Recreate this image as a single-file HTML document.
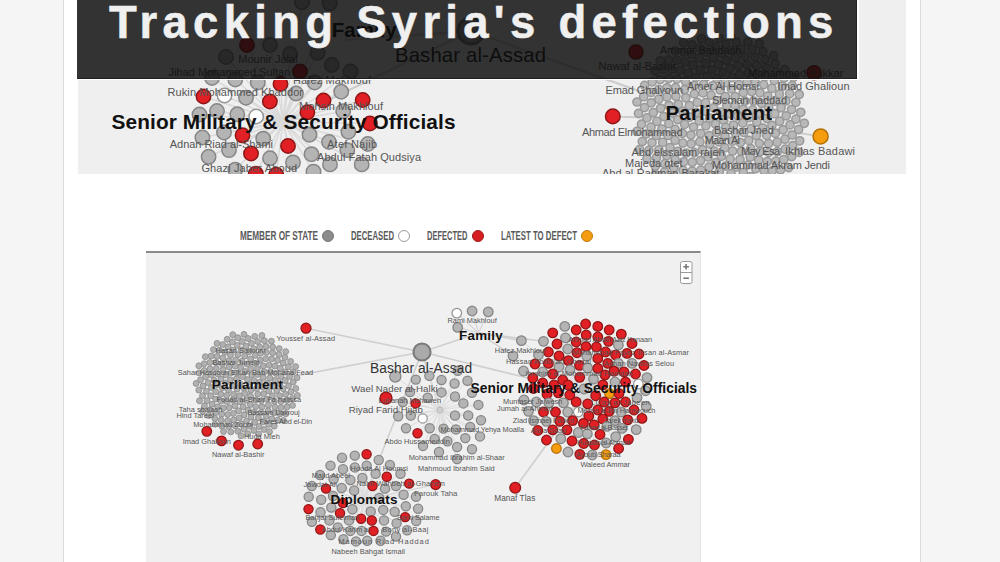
<!DOCTYPE html>
<html><head><meta charset="utf-8"><style>
html,body{margin:0;padding:0;}
body{width:1000px;height:562px;overflow:hidden;background:#f5f5f5;position:relative;font-family:"Liberation Sans",sans-serif;}
.col{position:absolute;left:63px;top:0;width:856px;height:562px;background:#fff;border-left:1px solid #dadada;border-right:1px solid #dadada;}
.topimg{position:absolute;left:77px;top:0;width:829px;height:174px;background:#fff;overflow:hidden;}
.gbg{position:absolute;left:1px;top:0;width:828px;height:174px;background:#efefef;}
.gap{position:absolute;left:0;top:78.5px;width:781.5px;height:1.8px;background:#fff;}
.gapr{position:absolute;left:779.5px;top:0;width:2px;height:80px;background:#fff;}
.banner{position:absolute;left:0;top:0;width:780px;height:79px;background:rgba(11,11,11,0.826);border-bottom:1px solid rgba(20,20,20,.6);border-right:1px solid rgba(20,20,20,.5);box-sizing:border-box;}
.title{position:absolute;left:32px;top:-3.3px;-webkit-text-stroke:0.5px #eeeeee;font-size:45.5px;font-weight:bold;color:#f0f0f0;letter-spacing:5.27px;white-space:nowrap;}
.leg{position:absolute;top:227.5px;font-size:13.5px;font-weight:bold;color:#5a5a5a;white-space:nowrap;transform-origin:0 0;}
.dot{position:absolute;top:230px;width:10px;height:10px;border-radius:50%;}
 .box{position:absolute;left:146px;top:251px;width:555px;border-right:1px solid #e6e6e6;height:311px;background:#f0f0f0;border-top:2px solid #8a8a8a;box-sizing:border-box;overflow:hidden;}
.zoom{position:absolute;left:534px;top:9px;width:11px;height:22px;background:#fff;border:1px solid #aaa;border-radius:2px;box-shadow:0 1px 1px rgba(0,0,0,.3);}
svg text{font-family:"Liberation Sans",sans-serif;}
</style></head><body>
<div class="col"></div>
<div class="topimg">
<div class="gbg"></div>
<svg width="829" height="174" viewBox="77 0 829 174" style="position:absolute;left:0;top:0"><line x1="471.0" y1="31.0" x2="720.0" y2="120.0" stroke="#cdcdcd" stroke-width="2.2"/>
<line x1="471.0" y1="31.0" x2="283.0" y2="122.0" stroke="#cdcdcd" stroke-width="2.2"/>
<line x1="471.0" y1="31.0" x2="345.0" y2="40.0" stroke="#cdcdcd" stroke-width="2.2"/>
<line x1="612.8" y1="116.4" x2="720.0" y2="120.0" stroke="#cdcdcd" stroke-width="2"/>
<line x1="820.6" y1="136.4" x2="720.0" y2="120.0" stroke="#cdcdcd" stroke-width="2"/>
<line x1="283.0" y1="122.0" x2="212.0" y2="78.0" stroke="#dadada" stroke-width="1.5"/>
<line x1="283.0" y1="122.0" x2="235.3" y2="79.5" stroke="#dadada" stroke-width="1.5"/>
<line x1="283.0" y1="122.0" x2="257.8" y2="82.5" stroke="#dadada" stroke-width="1.5"/>
<line x1="283.0" y1="122.0" x2="280.5" y2="84.0" stroke="#dadada" stroke-width="1.5"/>
<line x1="283.0" y1="122.0" x2="203.5" y2="96.5" stroke="#dadada" stroke-width="1.5"/>
<line x1="283.0" y1="122.0" x2="224.5" y2="95.5" stroke="#dadada" stroke-width="1.5"/>
<line x1="283.0" y1="122.0" x2="246.0" y2="97.7" stroke="#dadada" stroke-width="1.5"/>
<line x1="283.0" y1="122.0" x2="269.9" y2="101.5" stroke="#dadada" stroke-width="1.5"/>
<line x1="283.0" y1="122.0" x2="296.0" y2="93.5" stroke="#dadada" stroke-width="1.5"/>
<line x1="283.0" y1="122.0" x2="314.6" y2="82.5" stroke="#dadada" stroke-width="1.5"/>
<line x1="283.0" y1="122.0" x2="341.2" y2="91.7" stroke="#dadada" stroke-width="1.5"/>
<line x1="283.0" y1="122.0" x2="323.5" y2="100.5" stroke="#dadada" stroke-width="1.5"/>
<line x1="283.0" y1="122.0" x2="362.7" y2="100.0" stroke="#dadada" stroke-width="1.5"/>
<line x1="283.0" y1="122.0" x2="199.5" y2="114.5" stroke="#dadada" stroke-width="1.5"/>
<line x1="283.0" y1="122.0" x2="217.0" y2="111.0" stroke="#dadada" stroke-width="1.5"/>
<line x1="283.0" y1="122.0" x2="237.3" y2="114.3" stroke="#dadada" stroke-width="1.5"/>
<line x1="283.0" y1="122.0" x2="256.2" y2="116.5" stroke="#dadada" stroke-width="1.5"/>
<line x1="283.0" y1="122.0" x2="307.4" y2="112.3" stroke="#dadada" stroke-width="1.5"/>
<line x1="283.0" y1="122.0" x2="343.2" y2="111.2" stroke="#dadada" stroke-width="1.5"/>
<line x1="283.0" y1="122.0" x2="369.9" y2="123.5" stroke="#dadada" stroke-width="1.5"/>
<line x1="283.0" y1="122.0" x2="224.0" y2="132.5" stroke="#dadada" stroke-width="1.5"/>
<line x1="283.0" y1="122.0" x2="202.4" y2="137.5" stroke="#dadada" stroke-width="1.5"/>
<line x1="283.0" y1="122.0" x2="242.5" y2="135.3" stroke="#dadada" stroke-width="1.5"/>
<line x1="283.0" y1="122.0" x2="263.2" y2="138.6" stroke="#dadada" stroke-width="1.5"/>
<line x1="283.0" y1="122.0" x2="309.5" y2="134.7" stroke="#dadada" stroke-width="1.5"/>
<line x1="283.0" y1="122.0" x2="348.4" y2="131.7" stroke="#dadada" stroke-width="1.5"/>
<line x1="283.0" y1="122.0" x2="288.0" y2="146.0" stroke="#dadada" stroke-width="1.5"/>
<line x1="283.0" y1="122.0" x2="329.0" y2="142.0" stroke="#dadada" stroke-width="1.5"/>
<line x1="283.0" y1="122.0" x2="367.8" y2="144.0" stroke="#dadada" stroke-width="1.5"/>
<line x1="283.0" y1="122.0" x2="208.6" y2="156.8" stroke="#dadada" stroke-width="1.5"/>
<line x1="283.0" y1="122.0" x2="229.0" y2="150.1" stroke="#dadada" stroke-width="1.5"/>
<line x1="283.0" y1="122.0" x2="251.0" y2="153.5" stroke="#dadada" stroke-width="1.5"/>
<line x1="283.0" y1="122.0" x2="270.0" y2="158.3" stroke="#dadada" stroke-width="1.5"/>
<line x1="283.0" y1="122.0" x2="293.0" y2="162.4" stroke="#dadada" stroke-width="1.5"/>
<line x1="283.0" y1="122.0" x2="311.5" y2="154.2" stroke="#dadada" stroke-width="1.5"/>
<line x1="283.0" y1="122.0" x2="347.3" y2="150.1" stroke="#dadada" stroke-width="1.5"/>
<line x1="283.0" y1="122.0" x2="330.0" y2="164.4" stroke="#dadada" stroke-width="1.5"/>
<line x1="283.0" y1="122.0" x2="361.7" y2="164.4" stroke="#dadada" stroke-width="1.5"/>
<line x1="283.0" y1="122.0" x2="313.5" y2="171.6" stroke="#dadada" stroke-width="1.5"/>
<line x1="283.0" y1="122.0" x2="235.3" y2="169.6" stroke="#dadada" stroke-width="1.5"/>
<line x1="283.0" y1="122.0" x2="255.8" y2="173.7" stroke="#dadada" stroke-width="1.5"/>
<line x1="283.0" y1="122.0" x2="276.2" y2="174.7" stroke="#dadada" stroke-width="1.5"/>
<line x1="283.0" y1="122.0" x2="247.0" y2="45.0" stroke="#dadada" stroke-width="1.5"/>
<line x1="283.0" y1="122.0" x2="270.0" y2="45.0" stroke="#dadada" stroke-width="1.5"/>
<line x1="283.0" y1="122.0" x2="226.0" y2="57.0" stroke="#dadada" stroke-width="1.5"/>
<line x1="283.0" y1="122.0" x2="290.0" y2="54.0" stroke="#dadada" stroke-width="1.5"/>
<line x1="283.0" y1="122.0" x2="317.5" y2="52.8" stroke="#dadada" stroke-width="1.5"/>
<line x1="283.0" y1="122.0" x2="302.0" y2="2.2" stroke="#dadada" stroke-width="1.5"/>
<line x1="283.0" y1="122.0" x2="329.6" y2="3.3" stroke="#dadada" stroke-width="1.5"/>
<line x1="283.0" y1="122.0" x2="300.0" y2="71.5" stroke="#dadada" stroke-width="1.5"/>
<line x1="283.0" y1="122.0" x2="331.8" y2="65.0" stroke="#dadada" stroke-width="1.5"/>
<line x1="283.0" y1="122.0" x2="350.5" y2="71.5" stroke="#dadada" stroke-width="1.5"/>
<circle cx="723.5" cy="120.0" r="4.1" fill="#b8b8b8" stroke="#999999" stroke-width="1.5"/>
<circle cx="715.5" cy="124.1" r="4.1" fill="#b8b8b8" stroke="#999999" stroke-width="1.5"/>
<circle cx="720.7" cy="112.2" r="4.1" fill="#b8b8b8" stroke="#999999" stroke-width="1.5"/>
<circle cx="725.7" cy="127.4" r="4.1" fill="#b8b8b8" stroke="#999999" stroke-width="1.5"/>
<circle cx="709.6" cy="118.2" r="4.1" fill="#b8b8b8" stroke="#999999" stroke-width="1.5"/>
<circle cx="729.8" cy="113.8" r="4.1" fill="#b8b8b8" stroke="#999999" stroke-width="1.5"/>
<circle cx="716.7" cy="132.2" r="4.1" fill="#b8b8b8" stroke="#999999" stroke-width="1.5"/>
<circle cx="713.7" cy="107.9" r="4.1" fill="#b8b8b8" stroke="#999999" stroke-width="1.5"/>
<circle cx="733.6" cy="125.0" r="4.1" fill="#b8b8b8" stroke="#999999" stroke-width="1.5"/>
<circle cx="705.9" cy="125.8" r="4.1" fill="#b8b8b8" stroke="#999999" stroke-width="1.5"/>
<circle cx="726.8" cy="105.4" r="4.1" fill="#b8b8b8" stroke="#999999" stroke-width="1.5"/>
<circle cx="725.0" cy="136.1" r="4.1" fill="#b8b8b8" stroke="#999999" stroke-width="1.5"/>
<circle cx="704.8" cy="111.2" r="4.1" fill="#b8b8b8" stroke="#999999" stroke-width="1.5"/>
<circle cx="737.8" cy="116.1" r="4.1" fill="#b8b8b8" stroke="#999999" stroke-width="1.5"/>
<circle cx="709.1" cy="135.5" r="4.1" fill="#b8b8b8" stroke="#999999" stroke-width="1.5"/>
<circle cx="717.5" cy="100.6" r="4.1" fill="#b8b8b8" stroke="#999999" stroke-width="1.5"/>
<circle cx="735.4" cy="133.0" r="4.1" fill="#b8b8b8" stroke="#999999" stroke-width="1.5"/>
<circle cx="699.2" cy="120.9" r="4.1" fill="#b8b8b8" stroke="#999999" stroke-width="1.5"/>
<circle cx="735.1" cy="104.9" r="4.1" fill="#b8b8b8" stroke="#999999" stroke-width="1.5"/>
<circle cx="719.0" cy="141.9" r="4.1" fill="#b8b8b8" stroke="#999999" stroke-width="1.5"/>
<circle cx="705.6" cy="102.7" r="4.1" fill="#b8b8b8" stroke="#999999" stroke-width="1.5"/>
<circle cx="742.8" cy="123.1" r="4.1" fill="#b8b8b8" stroke="#999999" stroke-width="1.5"/>
<circle cx="700.7" cy="133.5" r="4.1" fill="#b8b8b8" stroke="#999999" stroke-width="1.5"/>
<circle cx="725.3" cy="96.5" r="4.1" fill="#b8b8b8" stroke="#999999" stroke-width="1.5"/>
<circle cx="732.2" cy="141.3" r="4.1" fill="#b8b8b8" stroke="#999999" stroke-width="1.5"/>
<circle cx="696.1" cy="112.4" r="4.1" fill="#b8b8b8" stroke="#999999" stroke-width="1.5"/>
<circle cx="743.2" cy="109.3" r="4.1" fill="#b8b8b8" stroke="#999999" stroke-width="1.5"/>
<circle cx="709.9" cy="144.0" r="4.1" fill="#b8b8b8" stroke="#999999" stroke-width="1.5"/>
<circle cx="711.0" cy="95.1" r="4.1" fill="#b8b8b8" stroke="#999999" stroke-width="1.5"/>
<circle cx="743.9" cy="132.5" r="4.1" fill="#b8b8b8" stroke="#999999" stroke-width="1.5"/>
<circle cx="693.5" cy="127.0" r="4.1" fill="#b8b8b8" stroke="#999999" stroke-width="1.5"/>
<circle cx="735.1" cy="96.6" r="4.1" fill="#b8b8b8" stroke="#999999" stroke-width="1.5"/>
<circle cx="724.8" cy="147.9" r="4.1" fill="#b8b8b8" stroke="#999999" stroke-width="1.5"/>
<circle cx="697.3" cy="102.4" r="4.1" fill="#b8b8b8" stroke="#999999" stroke-width="1.5"/>
<circle cx="749.1" cy="117.6" r="4.1" fill="#b8b8b8" stroke="#999999" stroke-width="1.5"/>
<circle cx="699.9" cy="141.7" r="4.1" fill="#b8b8b8" stroke="#999999" stroke-width="1.5"/>
<circle cx="720.1" cy="90.0" r="4.1" fill="#b8b8b8" stroke="#999999" stroke-width="1.5"/>
<circle cx="740.4" cy="142.5" r="4.1" fill="#b8b8b8" stroke="#999999" stroke-width="1.5"/>
<circle cx="689.3" cy="117.2" r="4.1" fill="#b8b8b8" stroke="#999999" stroke-width="1.5"/>
<circle cx="744.9" cy="101.1" r="4.1" fill="#b8b8b8" stroke="#999999" stroke-width="1.5"/>
<circle cx="714.3" cy="151.1" r="4.1" fill="#b8b8b8" stroke="#999999" stroke-width="1.5"/>
<circle cx="703.0" cy="92.9" r="4.1" fill="#b8b8b8" stroke="#999999" stroke-width="1.5"/>
<circle cx="751.2" cy="128.6" r="4.1" fill="#b8b8b8" stroke="#999999" stroke-width="1.5"/>
<circle cx="690.9" cy="135.0" r="4.1" fill="#b8b8b8" stroke="#999999" stroke-width="1.5"/>
<circle cx="731.5" cy="88.9" r="4.1" fill="#b8b8b8" stroke="#999999" stroke-width="1.5"/>
<circle cx="732.6" cy="151.0" r="4.1" fill="#b8b8b8" stroke="#999999" stroke-width="1.5"/>
<circle cx="689.4" cy="105.5" r="4.1" fill="#b8b8b8" stroke="#999999" stroke-width="1.5"/>
<circle cx="752.7" cy="109.9" r="4.1" fill="#b8b8b8" stroke="#999999" stroke-width="1.5"/>
<circle cx="702.5" cy="149.8" r="4.1" fill="#b8b8b8" stroke="#999999" stroke-width="1.5"/>
<circle cx="712.7" cy="85.8" r="4.1" fill="#b8b8b8" stroke="#999999" stroke-width="1.5"/>
<circle cx="748.8" cy="140.4" r="4.1" fill="#b8b8b8" stroke="#999999" stroke-width="1.5"/>
<circle cx="684.6" cy="124.4" r="4.1" fill="#b8b8b8" stroke="#999999" stroke-width="1.5"/>
<circle cx="743.3" cy="92.6" r="4.1" fill="#b8b8b8" stroke="#999999" stroke-width="1.5"/>
<circle cx="721.3" cy="156.3" r="4.1" fill="#b8b8b8" stroke="#999999" stroke-width="1.5"/>
<circle cx="694.3" cy="93.9" r="4.1" fill="#b8b8b8" stroke="#999999" stroke-width="1.5"/>
<circle cx="756.9" cy="121.9" r="4.1" fill="#b8b8b8" stroke="#999999" stroke-width="1.5"/>
<circle cx="691.2" cy="143.8" r="4.1" fill="#b8b8b8" stroke="#999999" stroke-width="1.5"/>
<circle cx="725.2" cy="82.7" r="4.1" fill="#b8b8b8" stroke="#999999" stroke-width="1.5"/>
<circle cx="741.5" cy="151.3" r="4.1" fill="#b8b8b8" stroke="#999999" stroke-width="1.5"/>
<circle cx="682.7" cy="111.4" r="4.1" fill="#b8b8b8" stroke="#999999" stroke-width="1.5"/>
<circle cx="753.6" cy="101.0" r="4.1" fill="#b8b8b8" stroke="#999999" stroke-width="1.5"/>
<circle cx="708.0" cy="157.0" r="4.1" fill="#b8b8b8" stroke="#999999" stroke-width="1.5"/>
<circle cx="703.7" cy="84.3" r="4.1" fill="#b8b8b8" stroke="#999999" stroke-width="1.5"/>
<circle cx="756.4" cy="135.5" r="4.1" fill="#b8b8b8" stroke="#999999" stroke-width="1.5"/>
<circle cx="682.4" cy="133.3" r="4.1" fill="#b8b8b8" stroke="#999999" stroke-width="1.5"/>
<circle cx="738.9" cy="84.5" r="4.1" fill="#b8b8b8" stroke="#999999" stroke-width="1.5"/>
<circle cx="730.1" cy="159.2" r="4.1" fill="#b8b8b8" stroke="#999999" stroke-width="1.5"/>
<circle cx="685.8" cy="97.8" r="4.1" fill="#b8b8b8" stroke="#999999" stroke-width="1.5"/>
<circle cx="760.5" cy="113.2" r="4.1" fill="#b8b8b8" stroke="#999999" stroke-width="1.5"/>
<circle cx="694.5" cy="152.6" r="4.1" fill="#b8b8b8" stroke="#999999" stroke-width="1.5"/>
<circle cx="716.8" cy="78.4" r="4.1" fill="#b8b8b8" stroke="#999999" stroke-width="1.5"/>
<circle cx="750.7" cy="148.7" r="4.1" fill="#b8b8b8" stroke="#999999" stroke-width="1.5"/>
<circle cx="677.7" cy="119.6" r="4.1" fill="#b8b8b8" stroke="#999999" stroke-width="1.5"/>
<circle cx="751.7" cy="91.6" r="4.1" fill="#b8b8b8" stroke="#999999" stroke-width="1.5"/>
<circle cx="715.8" cy="162.7" r="4.1" fill="#b8b8b8" stroke="#999999" stroke-width="1.5"/>
<circle cx="694.1" cy="85.5" r="4.1" fill="#b8b8b8" stroke="#999999" stroke-width="1.5"/>
<circle cx="762.7" cy="128.0" r="4.1" fill="#b8b8b8" stroke="#999999" stroke-width="1.5"/>
<circle cx="682.9" cy="143.1" r="4.1" fill="#b8b8b8" stroke="#999999" stroke-width="1.5"/>
<circle cx="731.8" cy="77.6" r="4.1" fill="#b8b8b8" stroke="#999999" stroke-width="1.5"/>
<circle cx="740.0" cy="159.5" r="4.1" fill="#b8b8b8" stroke="#999999" stroke-width="1.5"/>
<circle cx="678.3" cy="104.3" r="4.1" fill="#b8b8b8" stroke="#999999" stroke-width="1.5"/>
<circle cx="761.6" cy="103.3" r="4.1" fill="#b8b8b8" stroke="#999999" stroke-width="1.5"/>
<circle cx="700.5" cy="160.7" r="4.1" fill="#b8b8b8" stroke="#999999" stroke-width="1.5"/>
<circle cx="706.8" cy="76.6" r="4.1" fill="#b8b8b8" stroke="#999999" stroke-width="1.5"/>
<circle cx="759.3" cy="143.3" r="4.1" fill="#b8b8b8" stroke="#999999" stroke-width="1.5"/>
<circle cx="675.1" cy="129.4" r="4.1" fill="#b8b8b8" stroke="#999999" stroke-width="1.5"/>
<circle cx="746.9" cy="82.5" r="4.1" fill="#b8b8b8" stroke="#999999" stroke-width="1.5"/>
<circle cx="725.5" cy="166.1" r="4.1" fill="#b8b8b8" stroke="#999999" stroke-width="1.5"/>
<circle cx="684.6" cy="89.6" r="4.1" fill="#b8b8b8" stroke="#999999" stroke-width="1.5"/>
<circle cx="766.9" cy="118.5" r="4.1" fill="#b8b8b8" stroke="#999999" stroke-width="1.5"/>
<circle cx="686.2" cy="153.0" r="4.1" fill="#b8b8b8" stroke="#999999" stroke-width="1.5"/>
<circle cx="722.7" cy="72.6" r="4.1" fill="#b8b8b8" stroke="#999999" stroke-width="1.5"/>
<circle cx="750.2" cy="157.0" r="4.1" fill="#b8b8b8" stroke="#999999" stroke-width="1.5"/>
<circle cx="672.5" cy="113.1" r="4.1" fill="#b8b8b8" stroke="#999999" stroke-width="1.5"/>
<circle cx="759.9" cy="92.8" r="4.1" fill="#b8b8b8" stroke="#999999" stroke-width="1.5"/>
<circle cx="708.9" cy="167.2" r="4.1" fill="#b8b8b8" stroke="#999999" stroke-width="1.5"/>
<circle cx="696.2" cy="77.4" r="4.1" fill="#b8b8b8" stroke="#999999" stroke-width="1.5"/>
<circle cx="766.6" cy="135.4" r="4.1" fill="#b8b8b8" stroke="#999999" stroke-width="1.5"/>
<circle cx="675.1" cy="140.2" r="4.1" fill="#b8b8b8" stroke="#999999" stroke-width="1.5"/>
<circle cx="739.6" cy="74.5" r="4.1" fill="#b8b8b8" stroke="#999999" stroke-width="1.5"/>
<circle cx="736.4" cy="167.0" r="4.1" fill="#b8b8b8" stroke="#999999" stroke-width="1.5"/>
<circle cx="675.9" cy="96.3" r="4.1" fill="#b8b8b8" stroke="#999999" stroke-width="1.5"/>
<circle cx="768.7" cy="107.7" r="4.1" fill="#b8b8b8" stroke="#999999" stroke-width="1.5"/>
<circle cx="692.3" cy="162.2" r="4.1" fill="#b8b8b8" stroke="#999999" stroke-width="1.5"/>
<circle cx="711.9" cy="69.9" r="4.1" fill="#b8b8b8" stroke="#999999" stroke-width="1.5"/>
<circle cx="760.0" cy="151.6" r="4.1" fill="#b8b8b8" stroke="#999999" stroke-width="1.5"/>
<circle cx="668.9" cy="123.7" r="4.1" fill="#b8b8b8" stroke="#999999" stroke-width="1.5"/>
<circle cx="755.3" cy="82.6" r="4.1" fill="#b8b8b8" stroke="#999999" stroke-width="1.5"/>
<circle cx="719.2" cy="171.7" r="4.1" fill="#b8b8b8" stroke="#999999" stroke-width="1.5"/>
<circle cx="685.5" cy="81.2" r="4.1" fill="#b8b8b8" stroke="#999999" stroke-width="1.5"/>
<circle cx="771.9" cy="125.3" r="4.1" fill="#b8b8b8" stroke="#999999" stroke-width="1.5"/>
<circle cx="677.9" cy="151.3" r="4.1" fill="#b8b8b8" stroke="#999999" stroke-width="1.5"/>
<circle cx="729.9" cy="68.3" r="4.1" fill="#b8b8b8" stroke="#999999" stroke-width="1.5"/>
<circle cx="747.7" cy="165.0" r="4.1" fill="#b8b8b8" stroke="#999999" stroke-width="1.5"/>
<circle cx="668.9" cy="105.5" r="4.1" fill="#b8b8b8" stroke="#999999" stroke-width="1.5"/>
<circle cx="767.7" cy="96.1" r="4.1" fill="#b8b8b8" stroke="#999999" stroke-width="1.5"/>
<circle cx="700.9" cy="170.1" r="4.1" fill="#b8b8b8" stroke="#999999" stroke-width="1.5"/>
<circle cx="700.2" cy="70.0" r="4.1" fill="#b8b8b8" stroke="#999999" stroke-width="1.5"/>
<circle cx="768.6" cy="143.6" r="4.1" fill="#b8b8b8" stroke="#999999" stroke-width="1.5"/>
<circle cx="668.0" cy="135.5" r="4.1" fill="#b8b8b8" stroke="#999999" stroke-width="1.5"/>
<circle cx="748.0" cy="73.2" r="4.1" fill="#b8b8b8" stroke="#999999" stroke-width="1.5"/>
<circle cx="731.0" cy="173.6" r="4.1" fill="#b8b8b8" stroke="#999999" stroke-width="1.5"/>
<circle cx="675.5" cy="87.7" r="4.1" fill="#b8b8b8" stroke="#999999" stroke-width="1.5"/>
<circle cx="774.8" cy="113.7" r="4.1" fill="#b8b8b8" stroke="#999999" stroke-width="1.5"/>
<circle cx="683.7" cy="161.8" r="4.1" fill="#b8b8b8" stroke="#999999" stroke-width="1.5"/>
<circle cx="718.5" cy="64.4" r="4.1" fill="#b8b8b8" stroke="#999999" stroke-width="1.5"/>
<circle cx="758.8" cy="160.2" r="4.1" fill="#b8b8b8" stroke="#999999" stroke-width="1.5"/>
<circle cx="664.0" cy="116.6" r="4.1" fill="#b8b8b8" stroke="#999999" stroke-width="1.5"/>
<circle cx="763.7" cy="84.6" r="4.1" fill="#b8b8b8" stroke="#999999" stroke-width="1.5"/>
<circle cx="711.6" cy="175.9" r="4.1" fill="#b8b8b8" stroke="#999999" stroke-width="1.5"/>
<circle cx="688.3" cy="73.0" r="4.1" fill="#b8b8b8" stroke="#999999" stroke-width="1.5"/>
<circle cx="775.4" cy="133.3" r="4.1" fill="#b8b8b8" stroke="#999999" stroke-width="1.5"/>
<circle cx="670.0" cy="147.7" r="4.1" fill="#b8b8b8" stroke="#999999" stroke-width="1.5"/>
<circle cx="738.2" cy="65.6" r="4.1" fill="#b8b8b8" stroke="#999999" stroke-width="1.5"/>
<circle cx="743.4" cy="172.6" r="4.1" fill="#b8b8b8" stroke="#999999" stroke-width="1.5"/>
<circle cx="667.0" cy="96.9" r="4.1" fill="#b8b8b8" stroke="#999999" stroke-width="1.5"/>
<circle cx="774.9" cy="101.2" r="4.1" fill="#b8b8b8" stroke="#999999" stroke-width="1.5"/>
<circle cx="692.2" cy="171.1" r="4.1" fill="#b8b8b8" stroke="#999999" stroke-width="1.5"/>
<circle cx="705.9" cy="63.3" r="4.1" fill="#b8b8b8" stroke="#999999" stroke-width="1.5"/>
<circle cx="768.9" cy="152.4" r="4.1" fill="#b8b8b8" stroke="#999999" stroke-width="1.5"/>
<circle cx="661.9" cy="129.1" r="4.1" fill="#b8b8b8" stroke="#999999" stroke-width="1.5"/>
<circle cx="756.8" cy="73.8" r="4.1" fill="#b8b8b8" stroke="#999999" stroke-width="1.5"/>
<circle cx="724.0" cy="179.1" r="4.1" fill="#b8b8b8" stroke="#999999" stroke-width="1.5"/>
<circle cx="676.9" cy="79.0" r="4.1" fill="#b8b8b8" stroke="#999999" stroke-width="1.5"/>
<circle cx="779.7" cy="121.2" r="4.1" fill="#b8b8b8" stroke="#999999" stroke-width="1.5"/>
<circle cx="675.1" cy="159.6" r="4.1" fill="#b8b8b8" stroke="#999999" stroke-width="1.5"/>
<circle cx="726.4" cy="60.2" r="4.1" fill="#b8b8b8" stroke="#999999" stroke-width="1.5"/>
<circle cx="755.7" cy="168.6" r="4.1" fill="#b8b8b8" stroke="#999999" stroke-width="1.5"/>
<circle cx="660.6" cy="108.3" r="4.1" fill="#b8b8b8" stroke="#999999" stroke-width="1.5"/>
<circle cx="771.9" cy="88.4" r="4.1" fill="#b8b8b8" stroke="#999999" stroke-width="1.5"/>
<circle cx="703.0" cy="178.5" r="4.1" fill="#b8b8b8" stroke="#999999" stroke-width="1.5"/>
<circle cx="692.9" cy="65.2" r="4.1" fill="#b8b8b8" stroke="#999999" stroke-width="1.5"/>
<circle cx="777.2" cy="142.2" r="4.1" fill="#b8b8b8" stroke="#999999" stroke-width="1.5"/>
<circle cx="662.7" cy="142.4" r="4.1" fill="#b8b8b8" stroke="#999999" stroke-width="1.5"/>
<circle cx="747.2" cy="64.6" r="4.1" fill="#b8b8b8" stroke="#999999" stroke-width="1.5"/>
<circle cx="737.4" cy="179.4" r="4.1" fill="#b8b8b8" stroke="#999999" stroke-width="1.5"/>
<circle cx="666.9" cy="87.8" r="4.1" fill="#b8b8b8" stroke="#999999" stroke-width="1.5"/>
<circle cx="781.1" cy="107.8" r="4.1" fill="#b8b8b8" stroke="#999999" stroke-width="1.5"/>
<circle cx="683.1" cy="170.4" r="4.1" fill="#b8b8b8" stroke="#999999" stroke-width="1.5"/>
<circle cx="713.2" cy="57.7" r="4.1" fill="#b8b8b8" stroke="#999999" stroke-width="1.5"/>
<circle cx="767.3" cy="161.5" r="4.1" fill="#b8b8b8" stroke="#999999" stroke-width="1.5"/>
<circle cx="656.9" cy="121.4" r="4.1" fill="#b8b8b8" stroke="#999999" stroke-width="1.5"/>
<circle cx="765.7" cy="76.2" r="4.1" fill="#b8b8b8" stroke="#999999" stroke-width="1.5"/>
<circle cx="715.8" cy="183.4" r="4.1" fill="#b8b8b8" stroke="#999999" stroke-width="1.5"/>
<circle cx="680.2" cy="70.3" r="4.1" fill="#b8b8b8" stroke="#999999" stroke-width="1.5"/>
<circle cx="783.1" cy="129.8" r="4.1" fill="#b8b8b8" stroke="#999999" stroke-width="1.5"/>
<circle cx="666.7" cy="155.6" r="4.1" fill="#b8b8b8" stroke="#999999" stroke-width="1.5"/>
<circle cx="735.3" cy="57.6" r="4.1" fill="#b8b8b8" stroke="#999999" stroke-width="1.5"/>
<circle cx="750.9" cy="176.5" r="4.1" fill="#b8b8b8" stroke="#999999" stroke-width="1.5"/>
<circle cx="658.8" cy="99.2" r="4.1" fill="#b8b8b8" stroke="#999999" stroke-width="1.5"/>
<circle cx="779.4" cy="94.0" r="4.1" fill="#b8b8b8" stroke="#999999" stroke-width="1.5"/>
<circle cx="693.7" cy="179.5" r="4.1" fill="#b8b8b8" stroke="#999999" stroke-width="1.5"/>
<circle cx="699.1" cy="58.2" r="4.1" fill="#b8b8b8" stroke="#999999" stroke-width="1.5"/>
<circle cx="777.3" cy="151.6" r="4.1" fill="#b8b8b8" stroke="#999999" stroke-width="1.5"/>
<circle cx="656.3" cy="135.5" r="4.1" fill="#b8b8b8" stroke="#999999" stroke-width="1.5"/>
<circle cx="756.6" cy="65.4" r="4.1" fill="#b8b8b8" stroke="#999999" stroke-width="1.5"/>
<circle cx="729.9" cy="185.2" r="4.1" fill="#b8b8b8" stroke="#999999" stroke-width="1.5"/>
<circle cx="668.5" cy="78.5" r="4.1" fill="#b8b8b8" stroke="#999999" stroke-width="1.5"/>
<circle cx="786.2" cy="115.8" r="4.1" fill="#b8b8b8" stroke="#999999" stroke-width="1.5"/>
<circle cx="673.9" cy="167.9" r="4.1" fill="#b8b8b8" stroke="#999999" stroke-width="1.5"/>
<circle cx="721.6" cy="53.3" r="4.1" fill="#b8b8b8" stroke="#999999" stroke-width="1.5"/>
<circle cx="764.0" cy="170.4" r="4.1" fill="#b8b8b8" stroke="#999999" stroke-width="1.5"/>
<circle cx="653.3" cy="112.5" r="4.1" fill="#b8b8b8" stroke="#999999" stroke-width="1.5"/>
<circle cx="774.4" cy="80.4" r="4.1" fill="#b8b8b8" stroke="#999999" stroke-width="1.5"/>
<circle cx="706.6" cy="186.1" r="4.1" fill="#b8b8b8" stroke="#999999" stroke-width="1.5"/>
<circle cx="685.1" cy="62.1" r="4.1" fill="#b8b8b8" stroke="#999999" stroke-width="1.5"/>
<circle cx="785.0" cy="139.2" r="4.1" fill="#b8b8b8" stroke="#999999" stroke-width="1.5"/>
<circle cx="658.9" cy="149.9" r="4.1" fill="#b8b8b8" stroke="#999999" stroke-width="1.5"/>
<circle cx="744.9" cy="56.6" r="4.1" fill="#b8b8b8" stroke="#999999" stroke-width="1.5"/>
<circle cx="744.5" cy="183.8" r="4.1" fill="#b8b8b8" stroke="#999999" stroke-width="1.5"/>
<circle cx="658.7" cy="89.4" r="4.1" fill="#b8b8b8" stroke="#999999" stroke-width="1.5"/>
<circle cx="786.0" cy="101.0" r="4.1" fill="#b8b8b8" stroke="#999999" stroke-width="1.5"/>
<circle cx="684.0" cy="178.7" r="4.1" fill="#b8b8b8" stroke="#999999" stroke-width="1.5"/>
<circle cx="706.8" cy="52.2" r="4.1" fill="#b8b8b8" stroke="#999999" stroke-width="1.5"/>
<circle cx="775.7" cy="161.2" r="4.1" fill="#b8b8b8" stroke="#999999" stroke-width="1.5"/>
<circle cx="651.0" cy="127.2" r="4.1" fill="#b8b8b8" stroke="#999999" stroke-width="1.5"/>
<circle cx="766.1" cy="67.9" r="4.1" fill="#b8b8b8" stroke="#999999" stroke-width="1.5"/>
<circle cx="721.2" cy="189.8" r="4.1" fill="#b8b8b8" stroke="#999999" stroke-width="1.5"/>
<circle cx="671.9" cy="69.2" r="4.1" fill="#b8b8b8" stroke="#999999" stroke-width="1.5"/>
<circle cx="790.0" cy="124.9" r="4.1" fill="#b8b8b8" stroke="#999999" stroke-width="1.5"/>
<circle cx="664.9" cy="163.7" r="4.1" fill="#b8b8b8" stroke="#999999" stroke-width="1.5"/>
<circle cx="731.1" cy="50.4" r="4.1" fill="#b8b8b8" stroke="#999999" stroke-width="1.5"/>
<circle cx="758.9" cy="179.0" r="4.1" fill="#b8b8b8" stroke="#999999" stroke-width="1.5"/>
<circle cx="651.3" cy="102.8" r="4.1" fill="#b8b8b8" stroke="#999999" stroke-width="1.5"/>
<circle cx="782.4" cy="86.2" r="4.1" fill="#b8b8b8" stroke="#999999" stroke-width="1.5"/>
<circle cx="696.7" cy="187.3" r="4.1" fill="#b8b8b8" stroke="#999999" stroke-width="1.5"/>
<circle cx="691.7" cy="54.5" r="4.1" fill="#b8b8b8" stroke="#999999" stroke-width="1.5"/>
<circle cx="785.3" cy="149.2" r="4.1" fill="#b8b8b8" stroke="#999999" stroke-width="1.5"/>
<circle cx="652.0" cy="142.6" r="4.1" fill="#b8b8b8" stroke="#999999" stroke-width="1.5"/>
<circle cx="755.0" cy="57.2" r="4.1" fill="#b8b8b8" stroke="#999999" stroke-width="1.5"/>
<circle cx="736.7" cy="190.1" r="4.1" fill="#b8b8b8" stroke="#999999" stroke-width="1.5"/>
<circle cx="660.2" cy="79.5" r="4.1" fill="#b8b8b8" stroke="#999999" stroke-width="1.5"/>
<circle cx="791.6" cy="109.5" r="4.1" fill="#b8b8b8" stroke="#999999" stroke-width="1.5"/>
<circle cx="674.2" cy="176.3" r="4.1" fill="#b8b8b8" stroke="#999999" stroke-width="1.5"/>
<circle cx="715.8" cy="47.4" r="4.1" fill="#b8b8b8" stroke="#999999" stroke-width="1.5"/>
<circle cx="772.3" cy="170.8" r="4.1" fill="#b8b8b8" stroke="#999999" stroke-width="1.5"/>
<circle cx="647.0" cy="117.9" r="4.1" fill="#b8b8b8" stroke="#999999" stroke-width="1.5"/>
<circle cx="775.4" cy="72.1" r="4.1" fill="#b8b8b8" stroke="#999999" stroke-width="1.5"/>
<circle cx="711.4" cy="192.9" r="4.1" fill="#b8b8b8" stroke="#999999" stroke-width="1.5"/>
<circle cx="677.0" cy="60.3" r="4.1" fill="#b8b8b8" stroke="#999999" stroke-width="1.5"/>
<circle cx="792.2" cy="135.0" r="4.1" fill="#b8b8b8" stroke="#999999" stroke-width="1.5"/>
<circle cx="656.5" cy="157.8" r="4.1" fill="#b8b8b8" stroke="#999999" stroke-width="1.5"/>
<circle cx="741.3" cy="49.1" r="4.1" fill="#b8b8b8" stroke="#999999" stroke-width="1.5"/>
<circle cx="752.3" cy="186.8" r="4.1" fill="#b8b8b8" stroke="#999999" stroke-width="1.5"/>
<circle cx="650.9" cy="92.4" r="4.1" fill="#b8b8b8" stroke="#999999" stroke-width="1.5"/>
<circle cx="789.7" cy="93.6" r="4.1" fill="#b8b8b8" stroke="#999999" stroke-width="1.5"/>
<circle cx="686.4" cy="186.7" r="4.1" fill="#b8b8b8" stroke="#999999" stroke-width="1.5"/>
<circle cx="699.7" cy="47.9" r="4.1" fill="#b8b8b8" stroke="#999999" stroke-width="1.5"/>
<circle cx="783.8" cy="159.5" r="4.1" fill="#b8b8b8" stroke="#999999" stroke-width="1.5"/>
<circle cx="646.1" cy="134.0" r="4.1" fill="#b8b8b8" stroke="#999999" stroke-width="1.5"/>
<circle cx="765.1" cy="59.6" r="4.1" fill="#b8b8b8" stroke="#999999" stroke-width="1.5"/>
<circle cx="727.5" cy="195.2" r="4.1" fill="#b8b8b8" stroke="#999999" stroke-width="1.5"/>
<circle cx="663.6" cy="69.5" r="4.1" fill="#b8b8b8" stroke="#999999" stroke-width="1.5"/>
<circle cx="795.9" cy="119.1" r="4.1" fill="#b8b8b8" stroke="#999999" stroke-width="1.5"/>
<circle cx="664.6" cy="172.0" r="4.1" fill="#b8b8b8" stroke="#999999" stroke-width="1.5"/>
<circle cx="725.7" cy="44.0" r="4.1" fill="#b8b8b8" stroke="#999999" stroke-width="1.5"/>
<circle cx="767.2" cy="180.0" r="4.1" fill="#b8b8b8" stroke="#999999" stroke-width="1.5"/>
<circle cx="644.5" cy="107.6" r="4.1" fill="#b8b8b8" stroke="#999999" stroke-width="1.5"/>
<circle cx="784.2" cy="78.1" r="4.1" fill="#b8b8b8" stroke="#999999" stroke-width="1.5"/>
<circle cx="700.9" cy="194.4" r="4.1" fill="#b8b8b8" stroke="#999999" stroke-width="1.5"/>
<circle cx="683.7" cy="52.1" r="4.1" fill="#b8b8b8" stroke="#999999" stroke-width="1.5"/>
<circle cx="792.8" cy="145.6" r="4.1" fill="#b8b8b8" stroke="#999999" stroke-width="1.5"/>
<circle cx="648.9" cy="150.4" r="4.1" fill="#b8b8b8" stroke="#999999" stroke-width="1.5"/>
<circle cx="752.0" cy="49.4" r="4.1" fill="#b8b8b8" stroke="#999999" stroke-width="1.5"/>
<circle cx="744.1" cy="193.8" r="4.1" fill="#b8b8b8" stroke="#999999" stroke-width="1.5"/>
<circle cx="652.2" cy="81.8" r="4.1" fill="#b8b8b8" stroke="#999999" stroke-width="1.5"/>
<circle cx="795.9" cy="102.3" r="4.1" fill="#b8b8b8" stroke="#999999" stroke-width="1.5"/>
<circle cx="675.8" cy="184.4" r="4.1" fill="#b8b8b8" stroke="#999999" stroke-width="1.5"/>
<circle cx="709.0" cy="42.5" r="4.1" fill="#b8b8b8" stroke="#999999" stroke-width="1.5"/>
<circle cx="780.6" cy="169.8" r="4.1" fill="#b8b8b8" stroke="#999999" stroke-width="1.5"/>
<circle cx="641.5" cy="124.2" r="4.1" fill="#b8b8b8" stroke="#999999" stroke-width="1.5"/>
<circle cx="775.1" cy="63.8" r="4.1" fill="#b8b8b8" stroke="#999999" stroke-width="1.5"/>
<circle cx="717.3" cy="198.9" r="4.1" fill="#b8b8b8" stroke="#999999" stroke-width="1.5"/>
<circle cx="668.6" cy="59.9" r="4.1" fill="#b8b8b8" stroke="#999999" stroke-width="1.5"/>
<circle cx="798.6" cy="129.6" r="4.1" fill="#b8b8b8" stroke="#999999" stroke-width="1.5"/>
<circle cx="655.4" cy="166.1" r="4.1" fill="#b8b8b8" stroke="#999999" stroke-width="1.5"/>
<circle cx="736.5" cy="42.2" r="4.1" fill="#b8b8b8" stroke="#999999" stroke-width="1.5"/>
<circle cx="760.4" cy="188.6" r="4.1" fill="#b8b8b8" stroke="#999999" stroke-width="1.5"/>
<circle cx="643.7" cy="96.7" r="4.1" fill="#b8b8b8" stroke="#999999" stroke-width="1.5"/>
<circle cx="792.2" cy="85.6" r="4.1" fill="#b8b8b8" stroke="#999999" stroke-width="1.5"/>
<circle cx="690.0" cy="194.3" r="4.1" fill="#b8b8b8" stroke="#999999" stroke-width="1.5"/>
<circle cx="691.9" cy="44.8" r="4.1" fill="#b8b8b8" stroke="#999999" stroke-width="1.5"/>
<circle cx="791.7" cy="156.6" r="4.1" fill="#b8b8b8" stroke="#999999" stroke-width="1.5"/>
<circle cx="642.3" cy="141.5" r="4.1" fill="#b8b8b8" stroke="#999999" stroke-width="1.5"/>
<circle cx="762.9" cy="51.6" r="4.1" fill="#b8b8b8" stroke="#999999" stroke-width="1.5"/>
<circle cx="734.7" cy="199.6" r="4.1" fill="#b8b8b8" stroke="#999999" stroke-width="1.5"/>
<circle cx="655.3" cy="71.1" r="4.1" fill="#b8b8b8" stroke="#999999" stroke-width="1.5"/>
<circle cx="800.8" cy="112.3" r="4.1" fill="#b8b8b8" stroke="#999999" stroke-width="1.5"/>
<circle cx="665.5" cy="180.4" r="4.1" fill="#b8b8b8" stroke="#999999" stroke-width="1.5"/>
<circle cx="719.4" cy="38.5" r="4.1" fill="#b8b8b8" stroke="#999999" stroke-width="1.5"/>
<circle cx="775.6" cy="179.8" r="4.1" fill="#b8b8b8" stroke="#999999" stroke-width="1.5"/>
<circle cx="638.5" cy="113.4" r="4.1" fill="#b8b8b8" stroke="#999999" stroke-width="1.5"/>
<circle cx="784.7" cy="69.7" r="4.1" fill="#b8b8b8" stroke="#999999" stroke-width="1.5"/>
<circle cx="706.3" cy="201.0" r="4.1" fill="#b8b8b8" stroke="#999999" stroke-width="1.5"/>
<circle cx="675.3" cy="50.9" r="4.1" fill="#b8b8b8" stroke="#999999" stroke-width="1.5"/>
<circle cx="799.7" cy="140.8" r="4.1" fill="#b8b8b8" stroke="#999999" stroke-width="1.5"/>
<circle cx="647.0" cy="158.6" r="4.1" fill="#b8b8b8" stroke="#999999" stroke-width="1.5"/>
<circle cx="747.8" cy="42.1" r="4.1" fill="#b8b8b8" stroke="#999999" stroke-width="1.5"/>
<circle cx="752.2" cy="196.4" r="4.1" fill="#b8b8b8" stroke="#999999" stroke-width="1.5"/>
<circle cx="644.6" cy="85.4" r="4.1" fill="#b8b8b8" stroke="#999999" stroke-width="1.5"/>
<circle cx="799.2" cy="94.5" r="4.1" fill="#b8b8b8" stroke="#999999" stroke-width="1.5"/>
<circle cx="678.7" cy="192.4" r="4.1" fill="#b8b8b8" stroke="#999999" stroke-width="1.5"/>
<circle cx="701.5" cy="38.6" r="4.1" fill="#b8b8b8" stroke="#999999" stroke-width="1.5"/>
<circle cx="788.7" cy="167.6" r="4.1" fill="#b8b8b8" stroke="#999999" stroke-width="1.5"/>
<circle cx="637.0" cy="131.4" r="4.1" fill="#b8b8b8" stroke="#999999" stroke-width="1.5"/>
<circle cx="773.6" cy="55.5" r="4.1" fill="#b8b8b8" stroke="#999999" stroke-width="1.5"/>
<circle cx="724.1" cy="203.9" r="4.1" fill="#b8b8b8" stroke="#999999" stroke-width="1.5"/>
<circle cx="660.2" cy="60.8" r="4.1" fill="#b8b8b8" stroke="#999999" stroke-width="1.5"/>
<circle cx="804.3" cy="123.3" r="4.1" fill="#b8b8b8" stroke="#999999" stroke-width="1.5"/>
<circle cx="655.5" cy="174.6" r="4.1" fill="#b8b8b8" stroke="#999999" stroke-width="1.5"/>
<circle cx="730.7" cy="36.0" r="4.1" fill="#b8b8b8" stroke="#999999" stroke-width="1.5"/>
<circle cx="768.9" cy="189.2" r="4.1" fill="#b8b8b8" stroke="#999999" stroke-width="1.5"/>
<circle cx="637.0" cy="102.0" r="4.1" fill="#b8b8b8" stroke="#999999" stroke-width="1.5"/>
<circle cx="793.5" cy="77.2" r="4.1" fill="#b8b8b8" stroke="#999999" stroke-width="1.5"/>
<circle cx="694.7" cy="201.4" r="4.1" fill="#b8b8b8" stroke="#999999" stroke-width="1.5"/>
<circle cx="683.6" cy="42.8" r="4.1" fill="#b8b8b8" stroke="#999999" stroke-width="1.5"/>
<circle cx="799.1" cy="152.4" r="4.1" fill="#b8b8b8" stroke="#999999" stroke-width="1.5"/>
<circle cx="639.6" cy="149.6" r="4.1" fill="#b8b8b8" stroke="#999999" stroke-width="1.5"/>
<circle cx="759.4" cy="43.8" r="4.1" fill="#b8b8b8" stroke="#999999" stroke-width="1.5"/>
<circle cx="742.5" cy="202.9" r="4.1" fill="#b8b8b8" stroke="#999999" stroke-width="1.5"/>
<circle cx="212.0" cy="78.0" r="7.20" fill="#b4b4b4" stroke="#868686" stroke-width="1.5"/>
<circle cx="235.3" cy="79.5" r="7.20" fill="#b4b4b4" stroke="#868686" stroke-width="1.5"/>
<circle cx="257.8" cy="82.5" r="7.20" fill="#b4b4b4" stroke="#868686" stroke-width="1.5"/>
<circle cx="280.5" cy="84.0" r="7.20" fill="#e02024" stroke="#8e1616" stroke-width="1.5"/>
<circle cx="203.5" cy="96.5" r="7.20" fill="#e02024" stroke="#8e1616" stroke-width="1.5"/>
<circle cx="224.5" cy="95.5" r="7.20" fill="#ffffff" stroke="#959595" stroke-width="1.5"/>
<circle cx="246.0" cy="97.7" r="7.20" fill="#b4b4b4" stroke="#868686" stroke-width="1.5"/>
<circle cx="269.9" cy="101.5" r="7.20" fill="#e02024" stroke="#8e1616" stroke-width="1.5"/>
<circle cx="296.0" cy="93.5" r="7.20" fill="#b4b4b4" stroke="#868686" stroke-width="1.5"/>
<circle cx="314.6" cy="82.5" r="7.20" fill="#b4b4b4" stroke="#868686" stroke-width="1.5"/>
<circle cx="341.2" cy="91.7" r="7.20" fill="#b4b4b4" stroke="#868686" stroke-width="1.5"/>
<circle cx="323.5" cy="100.5" r="7.20" fill="#e02024" stroke="#8e1616" stroke-width="1.5"/>
<circle cx="362.7" cy="100.0" r="7.20" fill="#e02024" stroke="#8e1616" stroke-width="1.5"/>
<circle cx="199.5" cy="114.5" r="7.20" fill="#b4b4b4" stroke="#868686" stroke-width="1.5"/>
<circle cx="217.0" cy="111.0" r="7.20" fill="#b4b4b4" stroke="#868686" stroke-width="1.5"/>
<circle cx="237.3" cy="114.3" r="7.20" fill="#b4b4b4" stroke="#868686" stroke-width="1.5"/>
<circle cx="256.2" cy="116.5" r="7.20" fill="#ffffff" stroke="#959595" stroke-width="1.5"/>
<circle cx="307.4" cy="112.3" r="7.20" fill="#e02024" stroke="#8e1616" stroke-width="1.5"/>
<circle cx="343.2" cy="111.2" r="7.20" fill="#b4b4b4" stroke="#868686" stroke-width="1.5"/>
<circle cx="369.9" cy="123.5" r="7.20" fill="#e02024" stroke="#8e1616" stroke-width="1.5"/>
<circle cx="224.0" cy="132.5" r="7.20" fill="#b4b4b4" stroke="#868686" stroke-width="1.5"/>
<circle cx="202.4" cy="137.5" r="7.20" fill="#b4b4b4" stroke="#868686" stroke-width="1.5"/>
<circle cx="242.5" cy="135.3" r="7.20" fill="#e02024" stroke="#8e1616" stroke-width="1.5"/>
<circle cx="263.2" cy="138.6" r="7.20" fill="#b4b4b4" stroke="#868686" stroke-width="1.5"/>
<circle cx="309.5" cy="134.7" r="7.20" fill="#b4b4b4" stroke="#868686" stroke-width="1.5"/>
<circle cx="348.4" cy="131.7" r="7.20" fill="#b4b4b4" stroke="#868686" stroke-width="1.5"/>
<circle cx="288.0" cy="146.0" r="7.20" fill="#e02024" stroke="#8e1616" stroke-width="1.5"/>
<circle cx="329.0" cy="142.0" r="7.20" fill="#b4b4b4" stroke="#868686" stroke-width="1.5"/>
<circle cx="367.8" cy="144.0" r="7.20" fill="#b4b4b4" stroke="#868686" stroke-width="1.5"/>
<circle cx="208.6" cy="156.8" r="7.20" fill="#b4b4b4" stroke="#868686" stroke-width="1.5"/>
<circle cx="229.0" cy="150.1" r="7.20" fill="#b4b4b4" stroke="#868686" stroke-width="1.5"/>
<circle cx="251.0" cy="153.5" r="7.20" fill="#e02024" stroke="#8e1616" stroke-width="1.5"/>
<circle cx="270.0" cy="158.3" r="7.20" fill="#b4b4b4" stroke="#868686" stroke-width="1.5"/>
<circle cx="293.0" cy="162.4" r="7.20" fill="#b4b4b4" stroke="#868686" stroke-width="1.5"/>
<circle cx="311.5" cy="154.2" r="7.20" fill="#b4b4b4" stroke="#868686" stroke-width="1.5"/>
<circle cx="347.3" cy="150.1" r="7.20" fill="#b4b4b4" stroke="#868686" stroke-width="1.5"/>
<circle cx="330.0" cy="164.4" r="7.20" fill="#b4b4b4" stroke="#868686" stroke-width="1.5"/>
<circle cx="361.7" cy="164.4" r="7.20" fill="#b4b4b4" stroke="#868686" stroke-width="1.5"/>
<circle cx="313.5" cy="171.6" r="7.20" fill="#b4b4b4" stroke="#868686" stroke-width="1.5"/>
<circle cx="235.3" cy="169.6" r="7.20" fill="#b4b4b4" stroke="#868686" stroke-width="1.5"/>
<circle cx="255.8" cy="173.7" r="7.20" fill="#e02024" stroke="#8e1616" stroke-width="1.5"/>
<circle cx="276.2" cy="174.7" r="7.20" fill="#e02024" stroke="#8e1616" stroke-width="1.5"/>
<circle cx="247.0" cy="45.0" r="7.20" fill="#e02024" stroke="#8e1616" stroke-width="1.5"/>
<circle cx="270.0" cy="45.0" r="7.20" fill="#b4b4b4" stroke="#868686" stroke-width="1.5"/>
<circle cx="226.0" cy="57.0" r="7.20" fill="#b4b4b4" stroke="#868686" stroke-width="1.5"/>
<circle cx="290.0" cy="54.0" r="7.20" fill="#b4b4b4" stroke="#868686" stroke-width="1.5"/>
<circle cx="317.5" cy="52.8" r="7.20" fill="#b4b4b4" stroke="#868686" stroke-width="1.5"/>
<circle cx="302.0" cy="2.2" r="7.20" fill="#b4b4b4" stroke="#868686" stroke-width="1.5"/>
<circle cx="329.6" cy="3.3" r="7.20" fill="#b4b4b4" stroke="#868686" stroke-width="1.5"/>
<circle cx="300.0" cy="71.5" r="7.20" fill="#e02024" stroke="#8e1616" stroke-width="1.5"/>
<circle cx="331.8" cy="65.0" r="7.20" fill="#b4b4b4" stroke="#868686" stroke-width="1.5"/>
<circle cx="350.5" cy="71.5" r="7.20" fill="#b4b4b4" stroke="#868686" stroke-width="1.5"/>
<circle cx="612.8" cy="116.4" r="7.30" fill="#e02024" stroke="#8e1616" stroke-width="1.5"/>
<circle cx="820.6" cy="136.4" r="7.50" fill="#f59d0e" stroke="#b5720a" stroke-width="1.5"/>
<circle cx="636.0" cy="52.0" r="7.00" fill="#e02024" stroke="#8e1616" stroke-width="1.5"/>
<circle cx="814.0" cy="72.8" r="7.00" fill="#e02024" stroke="#8e1616" stroke-width="1.5"/>
<circle cx="471" cy="31" r="13" fill="#aaaaaa" stroke="#7a7a7a" stroke-width="3"/>
<text x="167.6" y="95.8" font-size="11" fill="#555" textLength="135.4" lengthAdjust="spacing">Rukin Mohammed Khaddor</text>
<text x="168.6" y="76.0" font-size="11" fill="#555">Jihad Mohammed Sultan</text>
<text x="238.3" y="62.7" font-size="11" fill="#555">Mounir Jalal</text>
<text x="293.0" y="84.0" font-size="11" fill="#555" textLength="78.0" lengthAdjust="spacing">Hafez Makhlouf</text>
<text x="299.0" y="110.0" font-size="11" fill="#555" textLength="84.0" lengthAdjust="spacing">Mohsin Makhlouf</text>
<text x="169.8" y="148.3" font-size="11" fill="#555" textLength="103.2" lengthAdjust="spacing">Adnan Riad al-Shami</text>
<text x="327.0" y="148.0" font-size="11" fill="#555" textLength="50.0" lengthAdjust="spacing">Atef Najib</text>
<text x="317.0" y="160.8" font-size="11" fill="#555" textLength="104.0" lengthAdjust="spacing">Abdul Fatah Qudsiya</text>
<text x="201.4" y="172.2" font-size="11" fill="#555" textLength="95.6" lengthAdjust="spacing">Ghazi Jaber Aboud</text>
<text x="605.5" y="94.3" font-size="11" fill="#555" textLength="77.5" lengthAdjust="spacing">Emad Ghalyoun</text>
<text x="582.0" y="136.4" font-size="11" fill="#555" textLength="100.5" lengthAdjust="spacing">Ahmad Elmohammad</text>
<text x="631.5" y="156.0" font-size="11" fill="#555" textLength="93.1" lengthAdjust="spacing">Abd elssalam rajeh</text>
<text x="625.0" y="166.8" font-size="11" fill="#555" textLength="57.6" lengthAdjust="spacing">Majeda qtet</text>
<text x="602.0" y="176.5" font-size="11" fill="#555">Abd al-Rahman Barakat</text>
<text x="687.0" y="89.6" font-size="11" fill="#555" textLength="72.0" lengthAdjust="spacing">Amer Al Homsi</text>
<text x="777.6" y="90.0" font-size="11" fill="#555" textLength="71.9" lengthAdjust="spacing">Imad Ghalioun</text>
<text x="712.0" y="103.6" font-size="11" fill="#555" textLength="75.0" lengthAdjust="spacing">Sleman haddad</text>
<text x="714.0" y="133.6" font-size="11" fill="#555" textLength="59.8" lengthAdjust="spacing">Bashar Jned</text>
<text x="704.7" y="143.8" font-size="11" fill="#555" textLength="35.3" lengthAdjust="spacing">Maan Al</text>
<text x="741.0" y="155.0" font-size="11" fill="#555" textLength="39.0" lengthAdjust="spacing">May Esa</text>
<text x="785.0" y="155.0" font-size="11" fill="#555" textLength="70.0" lengthAdjust="spacing">Ikhlas Badawi</text>
<text x="712.0" y="169.0" font-size="11" fill="#555" textLength="118.0" lengthAdjust="spacing">Mohammad Akram Jendi</text>
<text x="598.4" y="69.7" font-size="11" fill="#555">Nawaf al-Bashir</text>
<text x="660.0" y="54.0" font-size="11" fill="#555">Ammar Bakdash</text>
<text x="748.0" y="76.5" font-size="11" fill="#555">Mohammad Bakkar</text>
<text x="111.5" y="128.6" font-size="20.8" fill="#111" font-weight="bold" textLength="344.0" lengthAdjust="spacing">Senior Military &amp; Security Officials</text>
<text x="665.5" y="120.1" font-size="20.5" fill="#111" font-weight="bold" textLength="106.5" lengthAdjust="spacing">Parliament</text>
<text x="331.8" y="37.4" font-size="20.5" fill="#111" font-weight="bold">Family</text>
<text x="395.0" y="61.9" font-size="20.3" fill="#1a1a1a" textLength="151.0" lengthAdjust="spacing">Bashar al-Assad</text></svg>
<div class="gap"></div>
<div class="gapr"></div>
<div class="banner"></div>
<div class="title">Tracking Syria's defections</div>
</div>
<div class="leg" style="left:240px;transform:scaleX(0.607)">MEMBER OF STATE</div>
<div class="dot" style="left:322px;background:#8c8c8c;border:1px solid #777;"></div>
<div class="leg" style="left:351px;transform:scaleX(0.573)">DECEASED</div>
<div class="dot" style="left:398px;background:#fff;border:1px solid #999;"></div>
<div class="leg" style="left:427.2px;transform:scaleX(0.557)">DEFECTED</div>
<div class="dot" style="left:472px;background:#d42020;border:1px solid #a01818;"></div>
<div class="leg" style="left:500.6px;transform:scaleX(0.578)">LATEST TO DEFECT</div>
<div class="dot" style="left:581px;background:#f39c12;border:1px solid #c27a0a;"></div>
<div class="box">
<svg width="554" height="309" viewBox="146 253 554 309" style="position:absolute;left:0;top:0"><line x1="422.0" y1="352.0" x2="306.0" y2="328.2" stroke="#cfcfcf" stroke-width="1.6"/>
<line x1="422.0" y1="352.0" x2="247.0" y2="385.0" stroke="#cfcfcf" stroke-width="1.6"/>
<line x1="422.0" y1="352.0" x2="478.6" y2="333.0" stroke="#cfcfcf" stroke-width="1.6"/>
<line x1="422.0" y1="352.0" x2="585.0" y2="392.0" stroke="#cfcfcf" stroke-width="1.6"/>
<line x1="422.0" y1="352.0" x2="440.0" y2="410.0" stroke="#cfcfcf" stroke-width="1.6"/>
<line x1="422.0" y1="352.0" x2="363.0" y2="500.0" stroke="#cfcfcf" stroke-width="1.6"/>
<line x1="515.2" y1="487.8" x2="585.0" y2="392.0" stroke="#cfcfcf" stroke-width="1.6"/>
<line x1="478.6" y1="333.0" x2="521.4" y2="340.6" stroke="#cfcfcf" stroke-width="1.5"/>
<line x1="478.6" y1="333.0" x2="543.5" y2="341.3" stroke="#cfcfcf" stroke-width="1.5"/>
<line x1="478.6" y1="333.0" x2="513.0" y2="356.0" stroke="#cfcfcf" stroke-width="1.5"/>
<line x1="440.0" y1="410.0" x2="395.3" y2="376.5" stroke="#dddddd" stroke-width="1"/>
<line x1="440.0" y1="410.0" x2="415.8" y2="379.6" stroke="#dddddd" stroke-width="1"/>
<line x1="440.0" y1="410.0" x2="429.4" y2="375.8" stroke="#dddddd" stroke-width="1"/>
<line x1="440.0" y1="410.0" x2="441.5" y2="380.0" stroke="#dddddd" stroke-width="1"/>
<line x1="440.0" y1="410.0" x2="454.6" y2="383.5" stroke="#dddddd" stroke-width="1"/>
<line x1="440.0" y1="410.0" x2="467.5" y2="380.7" stroke="#dddddd" stroke-width="1"/>
<line x1="440.0" y1="410.0" x2="457.8" y2="370.7" stroke="#dddddd" stroke-width="1"/>
<line x1="440.0" y1="410.0" x2="410.0" y2="392.0" stroke="#dddddd" stroke-width="1"/>
<line x1="440.0" y1="410.0" x2="441.5" y2="392.4" stroke="#dddddd" stroke-width="1"/>
<line x1="440.0" y1="410.0" x2="455.0" y2="396.5" stroke="#dddddd" stroke-width="1"/>
<line x1="440.0" y1="410.0" x2="472.0" y2="392.8" stroke="#dddddd" stroke-width="1"/>
<line x1="440.0" y1="410.0" x2="463.4" y2="403.4" stroke="#dddddd" stroke-width="1"/>
<line x1="440.0" y1="410.0" x2="478.4" y2="404.9" stroke="#dddddd" stroke-width="1"/>
<line x1="440.0" y1="410.0" x2="427.7" y2="397.7" stroke="#dddddd" stroke-width="1"/>
<line x1="440.0" y1="410.0" x2="402.8" y2="402.0" stroke="#dddddd" stroke-width="1"/>
<line x1="440.0" y1="410.0" x2="415.6" y2="403.4" stroke="#dddddd" stroke-width="1"/>
<line x1="440.0" y1="410.0" x2="386.0" y2="398.0" stroke="#dddddd" stroke-width="1"/>
<line x1="440.0" y1="410.0" x2="398.2" y2="416.2" stroke="#dddddd" stroke-width="1"/>
<line x1="440.0" y1="410.0" x2="410.8" y2="415.5" stroke="#dddddd" stroke-width="1"/>
<line x1="440.0" y1="410.0" x2="422.7" y2="418.4" stroke="#dddddd" stroke-width="1"/>
<line x1="440.0" y1="410.0" x2="455.0" y2="415.5" stroke="#dddddd" stroke-width="1"/>
<line x1="440.0" y1="410.0" x2="468.2" y2="415.5" stroke="#dddddd" stroke-width="1"/>
<line x1="440.0" y1="410.0" x2="481.0" y2="420.2" stroke="#dddddd" stroke-width="1"/>
<line x1="440.0" y1="410.0" x2="406.0" y2="428.3" stroke="#dddddd" stroke-width="1"/>
<line x1="440.0" y1="410.0" x2="417.5" y2="433.3" stroke="#dddddd" stroke-width="1"/>
<line x1="440.0" y1="410.0" x2="429.7" y2="428.3" stroke="#dddddd" stroke-width="1"/>
<line x1="440.0" y1="410.0" x2="443.5" y2="428.6" stroke="#dddddd" stroke-width="1"/>
<line x1="440.0" y1="410.0" x2="456.0" y2="429.4" stroke="#dddddd" stroke-width="1"/>
<line x1="440.0" y1="410.0" x2="470.2" y2="426.9" stroke="#dddddd" stroke-width="1"/>
<line x1="440.0" y1="410.0" x2="434.7" y2="439.0" stroke="#dddddd" stroke-width="1"/>
<line x1="440.0" y1="410.0" x2="447.4" y2="441.2" stroke="#dddddd" stroke-width="1"/>
<line x1="440.0" y1="410.0" x2="465.3" y2="438.1" stroke="#dddddd" stroke-width="1"/>
<line x1="440.0" y1="410.0" x2="480.0" y2="436.4" stroke="#dddddd" stroke-width="1"/>
<line x1="440.0" y1="410.0" x2="423.0" y2="445.9" stroke="#dddddd" stroke-width="1"/>
<line x1="440.0" y1="410.0" x2="457.1" y2="447.0" stroke="#dddddd" stroke-width="1"/>
<line x1="440.0" y1="410.0" x2="472.0" y2="449.2" stroke="#dddddd" stroke-width="1"/>
<line x1="440.0" y1="410.0" x2="439.0" y2="452.0" stroke="#dddddd" stroke-width="1"/>
<line x1="440.0" y1="410.0" x2="457.1" y2="459.0" stroke="#dddddd" stroke-width="1"/>
<line x1="363.0" y1="500.0" x2="342.0" y2="457.8" stroke="#dddddd" stroke-width="1"/>
<line x1="363.0" y1="500.0" x2="354.8" y2="455.6" stroke="#dddddd" stroke-width="1"/>
<line x1="363.0" y1="500.0" x2="366.6" y2="454.2" stroke="#dddddd" stroke-width="1"/>
<line x1="363.0" y1="500.0" x2="330.5" y2="465.6" stroke="#dddddd" stroke-width="1"/>
<line x1="363.0" y1="500.0" x2="343.0" y2="469.3" stroke="#dddddd" stroke-width="1"/>
<line x1="363.0" y1="500.0" x2="354.8" y2="467.4" stroke="#dddddd" stroke-width="1"/>
<line x1="363.0" y1="500.0" x2="366.7" y2="465.6" stroke="#dddddd" stroke-width="1"/>
<line x1="363.0" y1="500.0" x2="320.0" y2="475.0" stroke="#dddddd" stroke-width="1"/>
<line x1="363.0" y1="500.0" x2="333.6" y2="479.3" stroke="#dddddd" stroke-width="1"/>
<line x1="363.0" y1="500.0" x2="350.4" y2="480.0" stroke="#dddddd" stroke-width="1"/>
<line x1="363.0" y1="500.0" x2="362.4" y2="478.0" stroke="#dddddd" stroke-width="1"/>
<line x1="363.0" y1="500.0" x2="311.8" y2="486.0" stroke="#dddddd" stroke-width="1"/>
<line x1="363.0" y1="500.0" x2="326.0" y2="488.6" stroke="#dddddd" stroke-width="1"/>
<line x1="363.0" y1="500.0" x2="341.7" y2="488.0" stroke="#dddddd" stroke-width="1"/>
<line x1="363.0" y1="500.0" x2="354.2" y2="490.5" stroke="#dddddd" stroke-width="1"/>
<line x1="363.0" y1="500.0" x2="308.7" y2="496.7" stroke="#dddddd" stroke-width="1"/>
<line x1="363.0" y1="500.0" x2="321.2" y2="499.8" stroke="#dddddd" stroke-width="1"/>
<line x1="363.0" y1="500.0" x2="333.0" y2="496.0" stroke="#dddddd" stroke-width="1"/>
<line x1="363.0" y1="500.0" x2="343.0" y2="503.0" stroke="#dddddd" stroke-width="1"/>
<line x1="363.0" y1="500.0" x2="308.5" y2="509.1" stroke="#dddddd" stroke-width="1"/>
<line x1="363.0" y1="500.0" x2="320.5" y2="512.2" stroke="#dddddd" stroke-width="1"/>
<line x1="363.0" y1="500.0" x2="331.3" y2="507.5" stroke="#dddddd" stroke-width="1"/>
<line x1="363.0" y1="500.0" x2="340.0" y2="513.2" stroke="#dddddd" stroke-width="1"/>
<line x1="363.0" y1="500.0" x2="352.4" y2="509.2" stroke="#dddddd" stroke-width="1"/>
<line x1="363.0" y1="500.0" x2="361.1" y2="518.7" stroke="#dddddd" stroke-width="1"/>
<line x1="363.0" y1="500.0" x2="378.7" y2="460.0" stroke="#dddddd" stroke-width="1"/>
<line x1="363.0" y1="500.0" x2="389.9" y2="465.0" stroke="#dddddd" stroke-width="1"/>
<line x1="363.0" y1="500.0" x2="375.6" y2="473.7" stroke="#dddddd" stroke-width="1"/>
<line x1="363.0" y1="500.0" x2="386.8" y2="476.8" stroke="#dddddd" stroke-width="1"/>
<line x1="363.0" y1="500.0" x2="400.5" y2="473.7" stroke="#dddddd" stroke-width="1"/>
<line x1="363.0" y1="500.0" x2="372.5" y2="486.0" stroke="#dddddd" stroke-width="1"/>
<line x1="363.0" y1="500.0" x2="385.0" y2="488.6" stroke="#dddddd" stroke-width="1"/>
<line x1="363.0" y1="500.0" x2="396.0" y2="486.0" stroke="#dddddd" stroke-width="1"/>
<line x1="363.0" y1="500.0" x2="409.2" y2="483.6" stroke="#dddddd" stroke-width="1"/>
<line x1="363.0" y1="500.0" x2="403.6" y2="494.8" stroke="#dddddd" stroke-width="1"/>
<line x1="363.0" y1="500.0" x2="416.0" y2="496.7" stroke="#dddddd" stroke-width="1"/>
<line x1="363.0" y1="500.0" x2="379.3" y2="498.0" stroke="#dddddd" stroke-width="1"/>
<line x1="363.0" y1="500.0" x2="370.7" y2="511.5" stroke="#dddddd" stroke-width="1"/>
<line x1="363.0" y1="500.0" x2="383.2" y2="509.9" stroke="#dddddd" stroke-width="1"/>
<line x1="363.0" y1="500.0" x2="394.7" y2="511.8" stroke="#dddddd" stroke-width="1"/>
<line x1="363.0" y1="500.0" x2="405.8" y2="506.2" stroke="#dddddd" stroke-width="1"/>
<line x1="363.0" y1="500.0" x2="418.1" y2="508.8" stroke="#dddddd" stroke-width="1"/>
<line x1="363.0" y1="500.0" x2="405.2" y2="517.1" stroke="#dddddd" stroke-width="1"/>
<line x1="363.0" y1="500.0" x2="371.8" y2="520.5" stroke="#dddddd" stroke-width="1"/>
<line x1="363.0" y1="500.0" x2="311.9" y2="521.8" stroke="#dddddd" stroke-width="1"/>
<line x1="363.0" y1="500.0" x2="329.4" y2="520.4" stroke="#dddddd" stroke-width="1"/>
<line x1="363.0" y1="500.0" x2="349.0" y2="520.4" stroke="#dddddd" stroke-width="1"/>
<line x1="363.0" y1="500.0" x2="384.0" y2="520.4" stroke="#dddddd" stroke-width="1"/>
<line x1="363.0" y1="500.0" x2="396.6" y2="523.2" stroke="#dddddd" stroke-width="1"/>
<line x1="363.0" y1="500.0" x2="416.2" y2="521.0" stroke="#dddddd" stroke-width="1"/>
<line x1="363.0" y1="500.0" x2="320.3" y2="529.5" stroke="#dddddd" stroke-width="1"/>
<line x1="363.0" y1="500.0" x2="337.8" y2="527.4" stroke="#dddddd" stroke-width="1"/>
<line x1="363.0" y1="500.0" x2="350.4" y2="530.9" stroke="#dddddd" stroke-width="1"/>
<line x1="363.0" y1="500.0" x2="361.6" y2="530.9" stroke="#dddddd" stroke-width="1"/>
<line x1="363.0" y1="500.0" x2="373.5" y2="530.9" stroke="#dddddd" stroke-width="1"/>
<line x1="363.0" y1="500.0" x2="386.1" y2="531.6" stroke="#dddddd" stroke-width="1"/>
<line x1="363.0" y1="500.0" x2="407.1" y2="530.2" stroke="#dddddd" stroke-width="1"/>
<line x1="363.0" y1="500.0" x2="330.8" y2="535.1" stroke="#dddddd" stroke-width="1"/>
<line x1="363.0" y1="500.0" x2="343.4" y2="539.3" stroke="#dddddd" stroke-width="1"/>
<line x1="363.0" y1="500.0" x2="356.0" y2="541.4" stroke="#dddddd" stroke-width="1"/>
<line x1="363.0" y1="500.0" x2="367.2" y2="540.7" stroke="#dddddd" stroke-width="1"/>
<line x1="363.0" y1="500.0" x2="380.5" y2="540.7" stroke="#dddddd" stroke-width="1"/>
<line x1="363.0" y1="500.0" x2="396.0" y2="536.5" stroke="#dddddd" stroke-width="1"/>
<line x1="585.0" y1="392.0" x2="564.8" y2="326.4" stroke="#dddddd" stroke-width="1"/>
<line x1="585.0" y1="392.0" x2="585.6" y2="324.0" stroke="#dddddd" stroke-width="1"/>
<line x1="585.0" y1="392.0" x2="576.2" y2="330.0" stroke="#dddddd" stroke-width="1"/>
<line x1="585.0" y1="392.0" x2="552.7" y2="332.8" stroke="#dddddd" stroke-width="1"/>
<line x1="585.0" y1="392.0" x2="521.4" y2="340.6" stroke="#dddddd" stroke-width="1"/>
<line x1="585.0" y1="392.0" x2="543.5" y2="341.3" stroke="#dddddd" stroke-width="1"/>
<line x1="585.0" y1="392.0" x2="565.5" y2="337.8" stroke="#dddddd" stroke-width="1"/>
<line x1="585.0" y1="392.0" x2="576.2" y2="342.0" stroke="#dddddd" stroke-width="1"/>
<line x1="585.0" y1="392.0" x2="586.2" y2="335.0" stroke="#dddddd" stroke-width="1"/>
<line x1="585.0" y1="392.0" x2="557.0" y2="344.0" stroke="#dddddd" stroke-width="1"/>
<line x1="585.0" y1="392.0" x2="586.0" y2="346.6" stroke="#dddddd" stroke-width="1"/>
<line x1="585.0" y1="392.0" x2="567.7" y2="349.0" stroke="#dddddd" stroke-width="1"/>
<line x1="585.0" y1="392.0" x2="548.4" y2="352.0" stroke="#dddddd" stroke-width="1"/>
<line x1="585.0" y1="392.0" x2="577.0" y2="352.7" stroke="#dddddd" stroke-width="1"/>
<line x1="585.0" y1="392.0" x2="538.5" y2="355.0" stroke="#dddddd" stroke-width="1"/>
<line x1="585.0" y1="392.0" x2="513.0" y2="356.0" stroke="#dddddd" stroke-width="1"/>
<line x1="585.0" y1="392.0" x2="559.0" y2="356.0" stroke="#dddddd" stroke-width="1"/>
<line x1="585.0" y1="392.0" x2="568.4" y2="360.6" stroke="#dddddd" stroke-width="1"/>
<line x1="585.0" y1="392.0" x2="535.0" y2="364.0" stroke="#dddddd" stroke-width="1"/>
<line x1="585.0" y1="392.0" x2="548.4" y2="363.4" stroke="#dddddd" stroke-width="1"/>
<line x1="585.0" y1="392.0" x2="559.0" y2="367.0" stroke="#dddddd" stroke-width="1"/>
<line x1="585.0" y1="392.0" x2="570.0" y2="370.0" stroke="#dddddd" stroke-width="1"/>
<line x1="585.0" y1="392.0" x2="579.5" y2="365.3" stroke="#dddddd" stroke-width="1"/>
<line x1="585.0" y1="392.0" x2="586.7" y2="356.2" stroke="#dddddd" stroke-width="1"/>
<line x1="585.0" y1="392.0" x2="587.7" y2="368.0" stroke="#dddddd" stroke-width="1"/>
<line x1="585.0" y1="392.0" x2="523.5" y2="371.0" stroke="#dddddd" stroke-width="1"/>
<line x1="585.0" y1="392.0" x2="542.7" y2="372.0" stroke="#dddddd" stroke-width="1"/>
<line x1="585.0" y1="392.0" x2="552.7" y2="374.0" stroke="#dddddd" stroke-width="1"/>
<line x1="585.0" y1="392.0" x2="562.7" y2="380.0" stroke="#dddddd" stroke-width="1"/>
<line x1="585.0" y1="392.0" x2="532.8" y2="378.0" stroke="#dddddd" stroke-width="1"/>
<line x1="585.0" y1="392.0" x2="579.7" y2="377.3" stroke="#dddddd" stroke-width="1"/>
<line x1="585.0" y1="392.0" x2="542.7" y2="383.0" stroke="#dddddd" stroke-width="1"/>
<line x1="585.0" y1="392.0" x2="554.0" y2="385.0" stroke="#dddddd" stroke-width="1"/>
<line x1="585.0" y1="392.0" x2="568.0" y2="385.0" stroke="#dddddd" stroke-width="1"/>
<line x1="585.0" y1="392.0" x2="597.8" y2="326.4" stroke="#dddddd" stroke-width="1"/>
<line x1="585.0" y1="392.0" x2="609.2" y2="330.0" stroke="#dddddd" stroke-width="1"/>
<line x1="585.0" y1="392.0" x2="621.3" y2="334.2" stroke="#dddddd" stroke-width="1"/>
<line x1="585.0" y1="392.0" x2="597.8" y2="337.0" stroke="#dddddd" stroke-width="1"/>
<line x1="585.0" y1="392.0" x2="608.5" y2="341.3" stroke="#dddddd" stroke-width="1"/>
<line x1="585.0" y1="392.0" x2="618.4" y2="345.0" stroke="#dddddd" stroke-width="1"/>
<line x1="585.0" y1="392.0" x2="632.0" y2="343.5" stroke="#dddddd" stroke-width="1"/>
<line x1="585.0" y1="392.0" x2="596.4" y2="347.0" stroke="#dddddd" stroke-width="1"/>
<line x1="585.0" y1="392.0" x2="605.6" y2="352.0" stroke="#dddddd" stroke-width="1"/>
<line x1="585.0" y1="392.0" x2="615.6" y2="355.0" stroke="#dddddd" stroke-width="1"/>
<line x1="585.0" y1="392.0" x2="627.0" y2="353.4" stroke="#dddddd" stroke-width="1"/>
<line x1="585.0" y1="392.0" x2="639.0" y2="354.0" stroke="#dddddd" stroke-width="1"/>
<line x1="585.0" y1="392.0" x2="597.8" y2="358.4" stroke="#dddddd" stroke-width="1"/>
<line x1="585.0" y1="392.0" x2="607.8" y2="363.4" stroke="#dddddd" stroke-width="1"/>
<line x1="585.0" y1="392.0" x2="618.4" y2="363.4" stroke="#dddddd" stroke-width="1"/>
<line x1="585.0" y1="392.0" x2="632.0" y2="363.4" stroke="#dddddd" stroke-width="1"/>
<line x1="585.0" y1="392.0" x2="644.0" y2="365.5" stroke="#dddddd" stroke-width="1"/>
<line x1="585.0" y1="392.0" x2="597.8" y2="368.4" stroke="#dddddd" stroke-width="1"/>
<line x1="585.0" y1="392.0" x2="605.0" y2="374.8" stroke="#dddddd" stroke-width="1"/>
<line x1="585.0" y1="392.0" x2="614.0" y2="371.2" stroke="#dddddd" stroke-width="1"/>
<line x1="585.0" y1="392.0" x2="624.0" y2="372.0" stroke="#dddddd" stroke-width="1"/>
<line x1="585.0" y1="392.0" x2="635.5" y2="374.0" stroke="#dddddd" stroke-width="1"/>
<line x1="585.0" y1="392.0" x2="647.0" y2="377.6" stroke="#dddddd" stroke-width="1"/>
<line x1="585.0" y1="392.0" x2="593.5" y2="379.0" stroke="#dddddd" stroke-width="1"/>
<line x1="585.0" y1="392.0" x2="615.0" y2="382.0" stroke="#dddddd" stroke-width="1"/>
<line x1="585.0" y1="392.0" x2="625.5" y2="382.0" stroke="#dddddd" stroke-width="1"/>
<line x1="585.0" y1="392.0" x2="638.4" y2="384.0" stroke="#dddddd" stroke-width="1"/>
<line x1="585.0" y1="392.0" x2="602.8" y2="384.8" stroke="#dddddd" stroke-width="1"/>
<line x1="585.0" y1="392.0" x2="584.0" y2="389.0" stroke="#dddddd" stroke-width="1"/>
<line x1="585.0" y1="392.0" x2="609.5" y2="393.6" stroke="#dddddd" stroke-width="1"/>
<line x1="585.0" y1="392.0" x2="533.5" y2="388.5" stroke="#dddddd" stroke-width="1"/>
<line x1="585.0" y1="392.0" x2="547.0" y2="394.2" stroke="#dddddd" stroke-width="1"/>
<line x1="585.0" y1="392.0" x2="558.4" y2="392.8" stroke="#dddddd" stroke-width="1"/>
<line x1="585.0" y1="392.0" x2="569.8" y2="395.0" stroke="#dddddd" stroke-width="1"/>
<line x1="585.0" y1="392.0" x2="524.0" y2="400.0" stroke="#dddddd" stroke-width="1"/>
<line x1="585.0" y1="392.0" x2="536.3" y2="402.0" stroke="#dddddd" stroke-width="1"/>
<line x1="585.0" y1="392.0" x2="549.0" y2="402.8" stroke="#dddddd" stroke-width="1"/>
<line x1="585.0" y1="392.0" x2="563.4" y2="402.8" stroke="#dddddd" stroke-width="1"/>
<line x1="585.0" y1="392.0" x2="576.2" y2="402.0" stroke="#dddddd" stroke-width="1"/>
<line x1="585.0" y1="392.0" x2="587.7" y2="403.8" stroke="#dddddd" stroke-width="1"/>
<line x1="585.0" y1="392.0" x2="528.5" y2="411.3" stroke="#dddddd" stroke-width="1"/>
<line x1="585.0" y1="392.0" x2="543.5" y2="412.0" stroke="#dddddd" stroke-width="1"/>
<line x1="585.0" y1="392.0" x2="555.5" y2="412.0" stroke="#dddddd" stroke-width="1"/>
<line x1="585.0" y1="392.0" x2="567.7" y2="412.0" stroke="#dddddd" stroke-width="1"/>
<line x1="585.0" y1="392.0" x2="578.3" y2="412.0" stroke="#dddddd" stroke-width="1"/>
<line x1="585.0" y1="392.0" x2="588.8" y2="416.0" stroke="#dddddd" stroke-width="1"/>
<line x1="585.0" y1="392.0" x2="533.5" y2="420.6" stroke="#dddddd" stroke-width="1"/>
<line x1="585.0" y1="392.0" x2="546.3" y2="421.3" stroke="#dddddd" stroke-width="1"/>
<line x1="585.0" y1="392.0" x2="559.8" y2="421.3" stroke="#dddddd" stroke-width="1"/>
<line x1="585.0" y1="392.0" x2="572.6" y2="420.6" stroke="#dddddd" stroke-width="1"/>
<line x1="585.0" y1="392.0" x2="583.4" y2="423.4" stroke="#dddddd" stroke-width="1"/>
<line x1="585.0" y1="392.0" x2="537.8" y2="430.5" stroke="#dddddd" stroke-width="1"/>
<line x1="585.0" y1="392.0" x2="552.7" y2="429.8" stroke="#dddddd" stroke-width="1"/>
<line x1="585.0" y1="392.0" x2="567.0" y2="429.8" stroke="#dddddd" stroke-width="1"/>
<line x1="585.0" y1="392.0" x2="578.3" y2="432.5" stroke="#dddddd" stroke-width="1"/>
<line x1="585.0" y1="392.0" x2="587.3" y2="433.8" stroke="#dddddd" stroke-width="1"/>
<line x1="585.0" y1="392.0" x2="546.5" y2="440.0" stroke="#dddddd" stroke-width="1"/>
<line x1="585.0" y1="392.0" x2="560.8" y2="438.7" stroke="#dddddd" stroke-width="1"/>
<line x1="585.0" y1="392.0" x2="572.0" y2="441.0" stroke="#dddddd" stroke-width="1"/>
<line x1="585.0" y1="392.0" x2="583.7" y2="443.5" stroke="#dddddd" stroke-width="1"/>
<line x1="585.0" y1="392.0" x2="556.4" y2="448.5" stroke="#dddddd" stroke-width="1"/>
<line x1="585.0" y1="392.0" x2="568.0" y2="452.0" stroke="#dddddd" stroke-width="1"/>
<line x1="585.0" y1="392.0" x2="579.8" y2="454.3" stroke="#dddddd" stroke-width="1"/>
<line x1="585.0" y1="392.0" x2="595.7" y2="395.7" stroke="#dddddd" stroke-width="1"/>
<line x1="585.0" y1="392.0" x2="619.0" y2="393.5" stroke="#dddddd" stroke-width="1"/>
<line x1="585.0" y1="392.0" x2="637.0" y2="397.8" stroke="#dddddd" stroke-width="1"/>
<line x1="585.0" y1="392.0" x2="645.5" y2="390.7" stroke="#dddddd" stroke-width="1"/>
<line x1="585.0" y1="392.0" x2="604.2" y2="402.0" stroke="#dddddd" stroke-width="1"/>
<line x1="585.0" y1="392.0" x2="615.0" y2="402.8" stroke="#dddddd" stroke-width="1"/>
<line x1="585.0" y1="392.0" x2="625.5" y2="402.0" stroke="#dddddd" stroke-width="1"/>
<line x1="585.0" y1="392.0" x2="646.2" y2="406.3" stroke="#dddddd" stroke-width="1"/>
<line x1="585.0" y1="392.0" x2="634.0" y2="410.0" stroke="#dddddd" stroke-width="1"/>
<line x1="585.0" y1="392.0" x2="597.8" y2="410.0" stroke="#dddddd" stroke-width="1"/>
<line x1="585.0" y1="392.0" x2="609.2" y2="411.3" stroke="#dddddd" stroke-width="1"/>
<line x1="585.0" y1="392.0" x2="621.3" y2="412.0" stroke="#dddddd" stroke-width="1"/>
<line x1="585.0" y1="392.0" x2="602.8" y2="419.0" stroke="#dddddd" stroke-width="1"/>
<line x1="585.0" y1="392.0" x2="615.0" y2="420.6" stroke="#dddddd" stroke-width="1"/>
<line x1="585.0" y1="392.0" x2="627.7" y2="419.9" stroke="#dddddd" stroke-width="1"/>
<line x1="585.0" y1="392.0" x2="642.0" y2="418.4" stroke="#dddddd" stroke-width="1"/>
<line x1="585.0" y1="392.0" x2="594.2" y2="424.8" stroke="#dddddd" stroke-width="1"/>
<line x1="585.0" y1="392.0" x2="607.0" y2="426.3" stroke="#dddddd" stroke-width="1"/>
<line x1="585.0" y1="392.0" x2="622.0" y2="428.4" stroke="#dddddd" stroke-width="1"/>
<line x1="585.0" y1="392.0" x2="636.2" y2="429.6" stroke="#dddddd" stroke-width="1"/>
<line x1="585.0" y1="392.0" x2="600.0" y2="434.5" stroke="#dddddd" stroke-width="1"/>
<line x1="585.0" y1="392.0" x2="615.7" y2="436.7" stroke="#dddddd" stroke-width="1"/>
<line x1="585.0" y1="392.0" x2="628.4" y2="439.3" stroke="#dddddd" stroke-width="1"/>
<line x1="585.0" y1="392.0" x2="594.5" y2="445.0" stroke="#dddddd" stroke-width="1"/>
<line x1="585.0" y1="392.0" x2="606.2" y2="443.0" stroke="#dddddd" stroke-width="1"/>
<line x1="585.0" y1="392.0" x2="618.6" y2="448.5" stroke="#dddddd" stroke-width="1"/>
<line x1="585.0" y1="392.0" x2="592.3" y2="455.0" stroke="#dddddd" stroke-width="1"/>
<line x1="585.0" y1="392.0" x2="606.0" y2="454.6" stroke="#dddddd" stroke-width="1"/>
<line x1="478.6" y1="333.0" x2="456.8" y2="313.1" stroke="#d5d5d5" stroke-width="1.2"/>
<line x1="478.6" y1="333.0" x2="472.1" y2="311.0" stroke="#d5d5d5" stroke-width="1.2"/>
<line x1="478.6" y1="333.0" x2="488.3" y2="311.8" stroke="#d5d5d5" stroke-width="1.2"/>
<line x1="478.6" y1="333.0" x2="457.7" y2="327.4" stroke="#d5d5d5" stroke-width="1.2"/>
<line x1="247.0" y1="385.0" x2="206.8" y2="431.3" stroke="#d5d5d5" stroke-width="1.2"/>
<line x1="247.0" y1="385.0" x2="221.5" y2="440.9" stroke="#d5d5d5" stroke-width="1.2"/>
<line x1="247.0" y1="385.0" x2="238.5" y2="445.2" stroke="#d5d5d5" stroke-width="1.2"/>
<line x1="247.0" y1="385.0" x2="257.7" y2="444.0" stroke="#d5d5d5" stroke-width="1.2"/>
<circle cx="249.4" cy="385.0" r="2.95" fill="#b0b0b0" stroke="#8f8f8f" stroke-width="0.9"/>
<circle cx="243.9" cy="387.9" r="2.95" fill="#b0b0b0" stroke="#8f8f8f" stroke-width="0.9"/>
<circle cx="247.5" cy="379.5" r="2.95" fill="#b0b0b0" stroke="#8f8f8f" stroke-width="0.9"/>
<circle cx="250.9" cy="390.1" r="2.95" fill="#b0b0b0" stroke="#8f8f8f" stroke-width="0.9"/>
<circle cx="239.8" cy="383.7" r="2.95" fill="#b0b0b0" stroke="#8f8f8f" stroke-width="0.9"/>
<circle cx="253.9" cy="380.6" r="2.95" fill="#b0b0b0" stroke="#8f8f8f" stroke-width="0.9"/>
<circle cx="244.7" cy="393.5" r="2.95" fill="#b0b0b0" stroke="#8f8f8f" stroke-width="0.9"/>
<circle cx="242.6" cy="376.6" r="2.95" fill="#b0b0b0" stroke="#8f8f8f" stroke-width="0.9"/>
<circle cx="256.5" cy="388.5" r="2.95" fill="#b0b0b0" stroke="#8f8f8f" stroke-width="0.9"/>
<circle cx="237.1" cy="389.1" r="2.95" fill="#b0b0b0" stroke="#8f8f8f" stroke-width="0.9"/>
<circle cx="251.8" cy="374.8" r="2.95" fill="#b0b0b0" stroke="#8f8f8f" stroke-width="0.9"/>
<circle cx="250.5" cy="396.2" r="2.95" fill="#b0b0b0" stroke="#8f8f8f" stroke-width="0.9"/>
<circle cx="236.4" cy="378.9" r="2.95" fill="#b0b0b0" stroke="#8f8f8f" stroke-width="0.9"/>
<circle cx="259.4" cy="382.3" r="2.95" fill="#b0b0b0" stroke="#8f8f8f" stroke-width="0.9"/>
<circle cx="239.4" cy="395.8" r="2.95" fill="#b0b0b0" stroke="#8f8f8f" stroke-width="0.9"/>
<circle cx="245.2" cy="371.5" r="2.95" fill="#b0b0b0" stroke="#8f8f8f" stroke-width="0.9"/>
<circle cx="257.8" cy="394.1" r="2.95" fill="#b0b0b0" stroke="#8f8f8f" stroke-width="0.9"/>
<circle cx="232.5" cy="385.6" r="2.95" fill="#b0b0b0" stroke="#8f8f8f" stroke-width="0.9"/>
<circle cx="257.6" cy="374.5" r="2.95" fill="#b0b0b0" stroke="#8f8f8f" stroke-width="0.9"/>
<circle cx="246.3" cy="400.3" r="2.95" fill="#b0b0b0" stroke="#8f8f8f" stroke-width="0.9"/>
<circle cx="237.0" cy="373.0" r="2.95" fill="#b0b0b0" stroke="#8f8f8f" stroke-width="0.9"/>
<circle cx="262.9" cy="387.1" r="2.95" fill="#b0b0b0" stroke="#8f8f8f" stroke-width="0.9"/>
<circle cx="233.5" cy="394.4" r="2.95" fill="#b0b0b0" stroke="#8f8f8f" stroke-width="0.9"/>
<circle cx="250.7" cy="368.6" r="2.95" fill="#b0b0b0" stroke="#8f8f8f" stroke-width="0.9"/>
<circle cx="255.5" cy="399.9" r="2.95" fill="#b0b0b0" stroke="#8f8f8f" stroke-width="0.9"/>
<circle cx="230.3" cy="379.7" r="2.95" fill="#b0b0b0" stroke="#8f8f8f" stroke-width="0.9"/>
<circle cx="263.2" cy="377.5" r="2.95" fill="#b0b0b0" stroke="#8f8f8f" stroke-width="0.9"/>
<circle cx="240.0" cy="401.8" r="2.95" fill="#b0b0b0" stroke="#8f8f8f" stroke-width="0.9"/>
<circle cx="240.7" cy="367.6" r="2.95" fill="#b0b0b0" stroke="#8f8f8f" stroke-width="0.9"/>
<circle cx="263.7" cy="393.8" r="2.95" fill="#b0b0b0" stroke="#8f8f8f" stroke-width="0.9"/>
<circle cx="228.5" cy="389.9" r="2.95" fill="#b0b0b0" stroke="#8f8f8f" stroke-width="0.9"/>
<circle cx="257.5" cy="368.6" r="2.95" fill="#b0b0b0" stroke="#8f8f8f" stroke-width="0.9"/>
<circle cx="250.3" cy="404.5" r="2.95" fill="#b0b0b0" stroke="#8f8f8f" stroke-width="0.9"/>
<circle cx="231.2" cy="372.7" r="2.95" fill="#b0b0b0" stroke="#8f8f8f" stroke-width="0.9"/>
<circle cx="267.3" cy="383.3" r="2.95" fill="#b0b0b0" stroke="#8f8f8f" stroke-width="0.9"/>
<circle cx="233.0" cy="400.1" r="2.95" fill="#b0b0b0" stroke="#8f8f8f" stroke-width="0.9"/>
<circle cx="247.1" cy="364.1" r="2.95" fill="#b0b0b0" stroke="#8f8f8f" stroke-width="0.9"/>
<circle cx="261.3" cy="400.7" r="2.95" fill="#b0b0b0" stroke="#8f8f8f" stroke-width="0.9"/>
<circle cx="225.6" cy="383.0" r="2.95" fill="#b0b0b0" stroke="#8f8f8f" stroke-width="0.9"/>
<circle cx="264.3" cy="371.8" r="2.95" fill="#b0b0b0" stroke="#8f8f8f" stroke-width="0.9"/>
<circle cx="243.1" cy="406.7" r="2.95" fill="#b0b0b0" stroke="#8f8f8f" stroke-width="0.9"/>
<circle cx="235.1" cy="366.1" r="2.95" fill="#b0b0b0" stroke="#8f8f8f" stroke-width="0.9"/>
<circle cx="268.8" cy="391.0" r="2.95" fill="#b0b0b0" stroke="#8f8f8f" stroke-width="0.9"/>
<circle cx="226.7" cy="395.4" r="2.95" fill="#b0b0b0" stroke="#8f8f8f" stroke-width="0.9"/>
<circle cx="255.0" cy="363.3" r="2.95" fill="#b0b0b0" stroke="#8f8f8f" stroke-width="0.9"/>
<circle cx="255.8" cy="406.6" r="2.95" fill="#b0b0b0" stroke="#8f8f8f" stroke-width="0.9"/>
<circle cx="225.7" cy="374.9" r="2.95" fill="#b0b0b0" stroke="#8f8f8f" stroke-width="0.9"/>
<circle cx="269.8" cy="378.0" r="2.95" fill="#b0b0b0" stroke="#8f8f8f" stroke-width="0.9"/>
<circle cx="234.8" cy="405.8" r="2.95" fill="#b0b0b0" stroke="#8f8f8f" stroke-width="0.9"/>
<circle cx="241.9" cy="361.2" r="2.95" fill="#b0b0b0" stroke="#8f8f8f" stroke-width="0.9"/>
<circle cx="267.1" cy="399.3" r="2.95" fill="#b0b0b0" stroke="#8f8f8f" stroke-width="0.9"/>
<circle cx="222.3" cy="388.1" r="2.95" fill="#b0b0b0" stroke="#8f8f8f" stroke-width="0.9"/>
<circle cx="263.3" cy="365.9" r="2.95" fill="#b0b0b0" stroke="#8f8f8f" stroke-width="0.9"/>
<circle cx="247.9" cy="410.3" r="2.95" fill="#b0b0b0" stroke="#8f8f8f" stroke-width="0.9"/>
<circle cx="229.1" cy="366.8" r="2.95" fill="#b0b0b0" stroke="#8f8f8f" stroke-width="0.9"/>
<circle cx="272.8" cy="386.3" r="2.95" fill="#b0b0b0" stroke="#8f8f8f" stroke-width="0.9"/>
<circle cx="226.9" cy="401.6" r="2.95" fill="#b0b0b0" stroke="#8f8f8f" stroke-width="0.9"/>
<circle cx="250.6" cy="359.0" r="2.95" fill="#b0b0b0" stroke="#8f8f8f" stroke-width="0.9"/>
<circle cx="262.0" cy="406.8" r="2.95" fill="#b0b0b0" stroke="#8f8f8f" stroke-width="0.9"/>
<circle cx="221.0" cy="379.0" r="2.95" fill="#b0b0b0" stroke="#8f8f8f" stroke-width="0.9"/>
<circle cx="270.4" cy="371.7" r="2.95" fill="#b0b0b0" stroke="#8f8f8f" stroke-width="0.9"/>
<circle cx="238.6" cy="410.8" r="2.95" fill="#b0b0b0" stroke="#8f8f8f" stroke-width="0.9"/>
<circle cx="235.6" cy="360.1" r="2.95" fill="#b0b0b0" stroke="#8f8f8f" stroke-width="0.9"/>
<circle cx="272.4" cy="395.8" r="2.95" fill="#b0b0b0" stroke="#8f8f8f" stroke-width="0.9"/>
<circle cx="220.8" cy="394.3" r="2.95" fill="#b0b0b0" stroke="#8f8f8f" stroke-width="0.9"/>
<circle cx="260.2" cy="360.3" r="2.95" fill="#b0b0b0" stroke="#8f8f8f" stroke-width="0.9"/>
<circle cx="254.1" cy="412.3" r="2.95" fill="#b0b0b0" stroke="#8f8f8f" stroke-width="0.9"/>
<circle cx="223.1" cy="369.5" r="2.95" fill="#b0b0b0" stroke="#8f8f8f" stroke-width="0.9"/>
<circle cx="275.3" cy="380.3" r="2.95" fill="#b0b0b0" stroke="#8f8f8f" stroke-width="0.9"/>
<circle cx="229.2" cy="407.7" r="2.95" fill="#b0b0b0" stroke="#8f8f8f" stroke-width="0.9"/>
<circle cx="244.7" cy="356.0" r="2.95" fill="#b0b0b0" stroke="#8f8f8f" stroke-width="0.9"/>
<circle cx="268.4" cy="405.0" r="2.95" fill="#b0b0b0" stroke="#8f8f8f" stroke-width="0.9"/>
<circle cx="217.5" cy="384.7" r="2.95" fill="#b0b0b0" stroke="#8f8f8f" stroke-width="0.9"/>
<circle cx="269.1" cy="365.2" r="2.95" fill="#b0b0b0" stroke="#8f8f8f" stroke-width="0.9"/>
<circle cx="244.1" cy="414.8" r="2.95" fill="#b0b0b0" stroke="#8f8f8f" stroke-width="0.9"/>
<circle cx="228.9" cy="360.9" r="2.95" fill="#b0b0b0" stroke="#8f8f8f" stroke-width="0.9"/>
<circle cx="276.8" cy="390.6" r="2.95" fill="#b0b0b0" stroke="#8f8f8f" stroke-width="0.9"/>
<circle cx="221.1" cy="401.1" r="2.95" fill="#b0b0b0" stroke="#8f8f8f" stroke-width="0.9"/>
<circle cx="255.3" cy="355.4" r="2.95" fill="#b0b0b0" stroke="#8f8f8f" stroke-width="0.9"/>
<circle cx="261.0" cy="412.5" r="2.95" fill="#b0b0b0" stroke="#8f8f8f" stroke-width="0.9"/>
<circle cx="217.9" cy="374.1" r="2.95" fill="#b0b0b0" stroke="#8f8f8f" stroke-width="0.9"/>
<circle cx="276.0" cy="373.4" r="2.95" fill="#b0b0b0" stroke="#8f8f8f" stroke-width="0.9"/>
<circle cx="233.4" cy="413.4" r="2.95" fill="#b0b0b0" stroke="#8f8f8f" stroke-width="0.9"/>
<circle cx="237.8" cy="354.7" r="2.95" fill="#b0b0b0" stroke="#8f8f8f" stroke-width="0.9"/>
<circle cx="274.4" cy="401.2" r="2.95" fill="#b0b0b0" stroke="#8f8f8f" stroke-width="0.9"/>
<circle cx="215.7" cy="391.6" r="2.95" fill="#b0b0b0" stroke="#8f8f8f" stroke-width="0.9"/>
<circle cx="265.8" cy="358.8" r="2.95" fill="#b0b0b0" stroke="#8f8f8f" stroke-width="0.9"/>
<circle cx="250.9" cy="417.2" r="2.95" fill="#b0b0b0" stroke="#8f8f8f" stroke-width="0.9"/>
<circle cx="222.3" cy="363.8" r="2.95" fill="#b0b0b0" stroke="#8f8f8f" stroke-width="0.9"/>
<circle cx="279.8" cy="384.0" r="2.95" fill="#b0b0b0" stroke="#8f8f8f" stroke-width="0.9"/>
<circle cx="223.4" cy="408.0" r="2.95" fill="#b0b0b0" stroke="#8f8f8f" stroke-width="0.9"/>
<circle cx="248.9" cy="351.9" r="2.95" fill="#b0b0b0" stroke="#8f8f8f" stroke-width="0.9"/>
<circle cx="268.1" cy="410.8" r="2.95" fill="#b0b0b0" stroke="#8f8f8f" stroke-width="0.9"/>
<circle cx="213.9" cy="380.2" r="2.95" fill="#b0b0b0" stroke="#8f8f8f" stroke-width="0.9"/>
<circle cx="274.8" cy="366.0" r="2.95" fill="#b0b0b0" stroke="#8f8f8f" stroke-width="0.9"/>
<circle cx="239.2" cy="417.9" r="2.95" fill="#b0b0b0" stroke="#8f8f8f" stroke-width="0.9"/>
<circle cx="230.4" cy="355.3" r="2.95" fill="#b0b0b0" stroke="#8f8f8f" stroke-width="0.9"/>
<circle cx="279.5" cy="395.7" r="2.95" fill="#b0b0b0" stroke="#8f8f8f" stroke-width="0.9"/>
<circle cx="215.7" cy="399.1" r="2.95" fill="#b0b0b0" stroke="#8f8f8f" stroke-width="0.9"/>
<circle cx="260.6" cy="353.3" r="2.95" fill="#b0b0b0" stroke="#8f8f8f" stroke-width="0.9"/>
<circle cx="258.4" cy="417.8" r="2.95" fill="#b0b0b0" stroke="#8f8f8f" stroke-width="0.9"/>
<circle cx="216.3" cy="368.5" r="2.95" fill="#b0b0b0" stroke="#8f8f8f" stroke-width="0.9"/>
<circle cx="281.0" cy="376.4" r="2.95" fill="#b0b0b0" stroke="#8f8f8f" stroke-width="0.9"/>
<circle cx="227.7" cy="414.5" r="2.95" fill="#b0b0b0" stroke="#8f8f8f" stroke-width="0.9"/>
<circle cx="241.3" cy="350.0" r="2.95" fill="#b0b0b0" stroke="#8f8f8f" stroke-width="0.9"/>
<circle cx="274.9" cy="407.1" r="2.95" fill="#b0b0b0" stroke="#8f8f8f" stroke-width="0.9"/>
<circle cx="211.4" cy="387.6" r="2.95" fill="#b0b0b0" stroke="#8f8f8f" stroke-width="0.9"/>
<circle cx="271.6" cy="358.9" r="2.95" fill="#b0b0b0" stroke="#8f8f8f" stroke-width="0.9"/>
<circle cx="246.5" cy="421.1" r="2.95" fill="#b0b0b0" stroke="#8f8f8f" stroke-width="0.9"/>
<circle cx="222.9" cy="357.9" r="2.95" fill="#b0b0b0" stroke="#8f8f8f" stroke-width="0.9"/>
<circle cx="283.2" cy="388.7" r="2.95" fill="#b0b0b0" stroke="#8f8f8f" stroke-width="0.9"/>
<circle cx="217.7" cy="406.8" r="2.95" fill="#b0b0b0" stroke="#8f8f8f" stroke-width="0.9"/>
<circle cx="253.9" cy="348.9" r="2.95" fill="#b0b0b0" stroke="#8f8f8f" stroke-width="0.9"/>
<circle cx="266.3" cy="416.4" r="2.95" fill="#b0b0b0" stroke="#8f8f8f" stroke-width="0.9"/>
<circle cx="211.4" cy="374.9" r="2.95" fill="#b0b0b0" stroke="#8f8f8f" stroke-width="0.9"/>
<circle cx="280.3" cy="368.3" r="2.95" fill="#b0b0b0" stroke="#8f8f8f" stroke-width="0.9"/>
<circle cx="233.7" cy="419.9" r="2.95" fill="#b0b0b0" stroke="#8f8f8f" stroke-width="0.9"/>
<circle cx="233.2" cy="350.1" r="2.95" fill="#b0b0b0" stroke="#8f8f8f" stroke-width="0.9"/>
<circle cx="280.9" cy="401.5" r="2.95" fill="#b0b0b0" stroke="#8f8f8f" stroke-width="0.9"/>
<circle cx="210.7" cy="395.8" r="2.95" fill="#b0b0b0" stroke="#8f8f8f" stroke-width="0.9"/>
<circle cx="266.5" cy="352.4" r="2.95" fill="#b0b0b0" stroke="#8f8f8f" stroke-width="0.9"/>
<circle cx="254.7" cy="422.4" r="2.95" fill="#b0b0b0" stroke="#8f8f8f" stroke-width="0.9"/>
<circle cx="216.0" cy="362.5" r="2.95" fill="#b0b0b0" stroke="#8f8f8f" stroke-width="0.9"/>
<circle cx="285.2" cy="380.6" r="2.95" fill="#b0b0b0" stroke="#8f8f8f" stroke-width="0.9"/>
<circle cx="221.7" cy="414.2" r="2.95" fill="#b0b0b0" stroke="#8f8f8f" stroke-width="0.9"/>
<circle cx="246.0" cy="346.2" r="2.95" fill="#b0b0b0" stroke="#8f8f8f" stroke-width="0.9"/>
<circle cx="274.1" cy="413.0" r="2.95" fill="#b0b0b0" stroke="#8f8f8f" stroke-width="0.9"/>
<circle cx="208.0" cy="382.6" r="2.95" fill="#b0b0b0" stroke="#8f8f8f" stroke-width="0.9"/>
<circle cx="277.5" cy="360.3" r="2.95" fill="#b0b0b0" stroke="#8f8f8f" stroke-width="0.9"/>
<circle cx="241.2" cy="424.0" r="2.95" fill="#b0b0b0" stroke="#8f8f8f" stroke-width="0.9"/>
<circle cx="224.9" cy="352.2" r="2.95" fill="#b0b0b0" stroke="#8f8f8f" stroke-width="0.9"/>
<circle cx="285.6" cy="394.3" r="2.95" fill="#b0b0b0" stroke="#8f8f8f" stroke-width="0.9"/>
<circle cx="212.1" cy="404.3" r="2.95" fill="#b0b0b0" stroke="#8f8f8f" stroke-width="0.9"/>
<circle cx="259.7" cy="347.1" r="2.95" fill="#b0b0b0" stroke="#8f8f8f" stroke-width="0.9"/>
<circle cx="263.3" cy="421.7" r="2.95" fill="#b0b0b0" stroke="#8f8f8f" stroke-width="0.9"/>
<circle cx="210.0" cy="368.9" r="2.95" fill="#b0b0b0" stroke="#8f8f8f" stroke-width="0.9"/>
<circle cx="285.3" cy="371.9" r="2.95" fill="#b0b0b0" stroke="#8f8f8f" stroke-width="0.9"/>
<circle cx="227.6" cy="420.7" r="2.95" fill="#b0b0b0" stroke="#8f8f8f" stroke-width="0.9"/>
<circle cx="237.2" cy="345.4" r="2.95" fill="#b0b0b0" stroke="#8f8f8f" stroke-width="0.9"/>
<circle cx="281.1" cy="407.6" r="2.95" fill="#b0b0b0" stroke="#8f8f8f" stroke-width="0.9"/>
<circle cx="206.4" cy="391.4" r="2.95" fill="#b0b0b0" stroke="#8f8f8f" stroke-width="0.9"/>
<circle cx="272.7" cy="352.8" r="2.95" fill="#b0b0b0" stroke="#8f8f8f" stroke-width="0.9"/>
<circle cx="249.8" cy="426.3" r="2.95" fill="#b0b0b0" stroke="#8f8f8f" stroke-width="0.9"/>
<circle cx="217.0" cy="356.4" r="2.95" fill="#b0b0b0" stroke="#8f8f8f" stroke-width="0.9"/>
<circle cx="288.6" cy="385.8" r="2.95" fill="#b0b0b0" stroke="#8f8f8f" stroke-width="0.9"/>
<circle cx="215.6" cy="412.6" r="2.95" fill="#b0b0b0" stroke="#8f8f8f" stroke-width="0.9"/>
<circle cx="251.5" cy="343.3" r="2.95" fill="#b0b0b0" stroke="#8f8f8f" stroke-width="0.9"/>
<circle cx="271.9" cy="418.9" r="2.95" fill="#b0b0b0" stroke="#8f8f8f" stroke-width="0.9"/>
<circle cx="205.6" cy="376.8" r="2.95" fill="#b0b0b0" stroke="#8f8f8f" stroke-width="0.9"/>
<circle cx="283.2" cy="363.0" r="2.95" fill="#b0b0b0" stroke="#8f8f8f" stroke-width="0.9"/>
<circle cx="235.2" cy="425.8" r="2.95" fill="#b0b0b0" stroke="#8f8f8f" stroke-width="0.9"/>
<circle cx="228.1" cy="346.8" r="2.95" fill="#b0b0b0" stroke="#8f8f8f" stroke-width="0.9"/>
<circle cx="286.9" cy="400.5" r="2.95" fill="#b0b0b0" stroke="#8f8f8f" stroke-width="0.9"/>
<circle cx="207.0" cy="400.6" r="2.95" fill="#b0b0b0" stroke="#8f8f8f" stroke-width="0.9"/>
<circle cx="266.0" cy="346.4" r="2.95" fill="#b0b0b0" stroke="#8f8f8f" stroke-width="0.9"/>
<circle cx="259.1" cy="426.5" r="2.95" fill="#b0b0b0" stroke="#8f8f8f" stroke-width="0.9"/>
<circle cx="209.9" cy="362.5" r="2.95" fill="#b0b0b0" stroke="#8f8f8f" stroke-width="0.9"/>
<circle cx="289.6" cy="376.5" r="2.95" fill="#b0b0b0" stroke="#8f8f8f" stroke-width="0.9"/>
<circle cx="221.2" cy="420.2" r="2.95" fill="#b0b0b0" stroke="#8f8f8f" stroke-width="0.9"/>
<circle cx="242.2" cy="341.5" r="2.95" fill="#b0b0b0" stroke="#8f8f8f" stroke-width="0.9"/>
<circle cx="280.0" cy="413.9" r="2.95" fill="#b0b0b0" stroke="#8f8f8f" stroke-width="0.9"/>
<circle cx="203.0" cy="386.0" r="2.95" fill="#b0b0b0" stroke="#8f8f8f" stroke-width="0.9"/>
<circle cx="278.9" cy="354.5" r="2.95" fill="#b0b0b0" stroke="#8f8f8f" stroke-width="0.9"/>
<circle cx="244.1" cy="429.2" r="2.95" fill="#b0b0b0" stroke="#8f8f8f" stroke-width="0.9"/>
<circle cx="219.2" cy="350.3" r="2.95" fill="#b0b0b0" stroke="#8f8f8f" stroke-width="0.9"/>
<circle cx="291.0" cy="391.8" r="2.95" fill="#b0b0b0" stroke="#8f8f8f" stroke-width="0.9"/>
<circle cx="209.8" cy="409.8" r="2.95" fill="#b0b0b0" stroke="#8f8f8f" stroke-width="0.9"/>
<circle cx="257.7" cy="341.5" r="2.95" fill="#b0b0b0" stroke="#8f8f8f" stroke-width="0.9"/>
<circle cx="268.6" cy="424.4" r="2.95" fill="#b0b0b0" stroke="#8f8f8f" stroke-width="0.9"/>
<circle cx="204.3" cy="370.5" r="2.95" fill="#b0b0b0" stroke="#8f8f8f" stroke-width="0.9"/>
<circle cx="288.4" cy="366.8" r="2.95" fill="#b0b0b0" stroke="#8f8f8f" stroke-width="0.9"/>
<circle cx="228.7" cy="426.5" r="2.95" fill="#b0b0b0" stroke="#8f8f8f" stroke-width="0.9"/>
<circle cx="232.4" cy="341.9" r="2.95" fill="#b0b0b0" stroke="#8f8f8f" stroke-width="0.9"/>
<circle cx="287.0" cy="407.0" r="2.95" fill="#b0b0b0" stroke="#8f8f8f" stroke-width="0.9"/>
<circle cx="202.5" cy="395.8" r="2.95" fill="#b0b0b0" stroke="#8f8f8f" stroke-width="0.9"/>
<circle cx="272.6" cy="346.9" r="2.95" fill="#b0b0b0" stroke="#8f8f8f" stroke-width="0.9"/>
<circle cx="253.9" cy="430.5" r="2.95" fill="#b0b0b0" stroke="#8f8f8f" stroke-width="0.9"/>
<circle cx="211.1" cy="356.0" r="2.95" fill="#b0b0b0" stroke="#8f8f8f" stroke-width="0.9"/>
<circle cx="293.2" cy="382.1" r="2.95" fill="#b0b0b0" stroke="#8f8f8f" stroke-width="0.9"/>
<circle cx="214.8" cy="418.4" r="2.95" fill="#b0b0b0" stroke="#8f8f8f" stroke-width="0.9"/>
<circle cx="248.1" cy="338.5" r="2.95" fill="#b0b0b0" stroke="#8f8f8f" stroke-width="0.9"/>
<circle cx="277.7" cy="420.2" r="2.95" fill="#b0b0b0" stroke="#8f8f8f" stroke-width="0.9"/>
<circle cx="200.5" cy="379.8" r="2.95" fill="#b0b0b0" stroke="#8f8f8f" stroke-width="0.9"/>
<circle cx="284.9" cy="357.4" r="2.95" fill="#b0b0b0" stroke="#8f8f8f" stroke-width="0.9"/>
<circle cx="237.7" cy="431.1" r="2.95" fill="#b0b0b0" stroke="#8f8f8f" stroke-width="0.9"/>
<circle cx="222.7" cy="344.6" r="2.95" fill="#b0b0b0" stroke="#8f8f8f" stroke-width="0.9"/>
<circle cx="292.4" cy="398.4" r="2.95" fill="#b0b0b0" stroke="#8f8f8f" stroke-width="0.9"/>
<circle cx="204.4" cy="405.8" r="2.95" fill="#b0b0b0" stroke="#8f8f8f" stroke-width="0.9"/>
<circle cx="264.4" cy="340.7" r="2.95" fill="#b0b0b0" stroke="#8f8f8f" stroke-width="0.9"/>
<circle cx="264.1" cy="429.5" r="2.95" fill="#b0b0b0" stroke="#8f8f8f" stroke-width="0.9"/>
<circle cx="204.2" cy="363.7" r="2.95" fill="#b0b0b0" stroke="#8f8f8f" stroke-width="0.9"/>
<circle cx="293.1" cy="371.8" r="2.95" fill="#b0b0b0" stroke="#8f8f8f" stroke-width="0.9"/>
<circle cx="221.9" cy="426.0" r="2.95" fill="#b0b0b0" stroke="#8f8f8f" stroke-width="0.9"/>
<circle cx="237.8" cy="337.7" r="2.95" fill="#b0b0b0" stroke="#8f8f8f" stroke-width="0.9"/>
<circle cx="285.8" cy="413.7" r="2.95" fill="#b0b0b0" stroke="#8f8f8f" stroke-width="0.9"/>
<circle cx="198.8" cy="390.1" r="2.95" fill="#b0b0b0" stroke="#8f8f8f" stroke-width="0.9"/>
<circle cx="279.2" cy="348.6" r="2.95" fill="#b0b0b0" stroke="#8f8f8f" stroke-width="0.9"/>
<circle cx="247.8" cy="433.7" r="2.95" fill="#b0b0b0" stroke="#8f8f8f" stroke-width="0.9"/>
<circle cx="213.4" cy="349.6" r="2.95" fill="#b0b0b0" stroke="#8f8f8f" stroke-width="0.9"/>
<circle cx="295.8" cy="388.5" r="2.95" fill="#b0b0b0" stroke="#8f8f8f" stroke-width="0.9"/>
<circle cx="208.6" cy="415.5" r="2.95" fill="#b0b0b0" stroke="#8f8f8f" stroke-width="0.9"/>
<circle cx="254.7" cy="336.4" r="2.95" fill="#b0b0b0" stroke="#8f8f8f" stroke-width="0.9"/>
<circle cx="274.2" cy="426.1" r="2.95" fill="#b0b0b0" stroke="#8f8f8f" stroke-width="0.9"/>
<circle cx="199.1" cy="373.0" r="2.95" fill="#b0b0b0" stroke="#8f8f8f" stroke-width="0.9"/>
<circle cx="290.6" cy="361.4" r="2.95" fill="#b0b0b0" stroke="#8f8f8f" stroke-width="0.9"/>
<circle cx="230.8" cy="431.9" r="2.95" fill="#b0b0b0" stroke="#8f8f8f" stroke-width="0.9"/>
<circle cx="227.2" cy="339.3" r="2.95" fill="#b0b0b0" stroke="#8f8f8f" stroke-width="0.9"/>
<circle cx="292.5" cy="405.4" r="2.95" fill="#b0b0b0" stroke="#8f8f8f" stroke-width="0.9"/>
<circle cx="199.5" cy="400.8" r="2.95" fill="#b0b0b0" stroke="#8f8f8f" stroke-width="0.9"/>
<circle cx="271.4" cy="341.2" r="2.95" fill="#b0b0b0" stroke="#8f8f8f" stroke-width="0.9"/>
<circle cx="258.6" cy="433.9" r="2.95" fill="#b0b0b0" stroke="#8f8f8f" stroke-width="0.9"/>
<circle cx="205.3" cy="356.7" r="2.95" fill="#b0b0b0" stroke="#8f8f8f" stroke-width="0.9"/>
<circle cx="297.0" cy="377.7" r="2.95" fill="#b0b0b0" stroke="#8f8f8f" stroke-width="0.9"/>
<circle cx="215.0" cy="424.2" r="2.95" fill="#b0b0b0" stroke="#8f8f8f" stroke-width="0.9"/>
<circle cx="244.0" cy="334.4" r="2.95" fill="#b0b0b0" stroke="#8f8f8f" stroke-width="0.9"/>
<circle cx="283.5" cy="420.4" r="2.95" fill="#b0b0b0" stroke="#8f8f8f" stroke-width="0.9"/>
<circle cx="196.1" cy="383.5" r="2.95" fill="#b0b0b0" stroke="#8f8f8f" stroke-width="0.9"/>
<circle cx="285.7" cy="351.6" r="2.95" fill="#b0b0b0" stroke="#8f8f8f" stroke-width="0.9"/>
<circle cx="241.0" cy="435.8" r="2.95" fill="#b0b0b0" stroke="#8f8f8f" stroke-width="0.9"/>
<circle cx="217.0" cy="343.4" r="2.95" fill="#b0b0b0" stroke="#8f8f8f" stroke-width="0.9"/>
<circle cx="297.4" cy="395.4" r="2.95" fill="#b0b0b0" stroke="#8f8f8f" stroke-width="0.9"/>
<circle cx="202.7" cy="411.4" r="2.95" fill="#b0b0b0" stroke="#8f8f8f" stroke-width="0.9"/>
<circle cx="261.9" cy="335.5" r="2.95" fill="#b0b0b0" stroke="#8f8f8f" stroke-width="0.9"/>
<circle cx="269.5" cy="431.6" r="2.95" fill="#b0b0b0" stroke="#8f8f8f" stroke-width="0.9"/>
<circle cx="198.8" cy="365.8" r="2.95" fill="#b0b0b0" stroke="#8f8f8f" stroke-width="0.9"/>
<circle cx="295.6" cy="366.6" r="2.95" fill="#b0b0b0" stroke="#8f8f8f" stroke-width="0.9"/>
<circle cx="223.5" cy="431.5" r="2.95" fill="#b0b0b0" stroke="#8f8f8f" stroke-width="0.9"/>
<circle cx="232.8" cy="334.7" r="2.95" fill="#b0b0b0" stroke="#8f8f8f" stroke-width="0.9"/>
<circle cx="206.8" cy="431.3" r="4.80" fill="#e02024" stroke="#8e1616" stroke-width="1.25"/>
<circle cx="221.5" cy="440.9" r="4.80" fill="#e02024" stroke="#8e1616" stroke-width="1.25"/>
<circle cx="238.5" cy="445.2" r="4.80" fill="#e02024" stroke="#8e1616" stroke-width="1.25"/>
<circle cx="257.7" cy="444.0" r="4.80" fill="#e02024" stroke="#8e1616" stroke-width="1.25"/>
<circle cx="306.0" cy="328.2" r="5.00" fill="#e02024" stroke="#8e1616" stroke-width="1.25"/>
<line x1="363.0" y1="500.0" x2="435.6" y2="484.6" stroke="#d5d5d5" stroke-width="1.2"/>
<circle cx="435.6" cy="484.6" r="4.90" fill="#e02024" stroke="#8e1616" stroke-width="1.25"/>
<circle cx="515.2" cy="487.8" r="5.40" fill="#e02024" stroke="#8e1616" stroke-width="1.25"/>
<circle cx="440" cy="410" r="3" fill="#d0d0d0" stroke="#bbbbbb" stroke-width="1"/>
<circle cx="395.3" cy="376.5" r="5.60" fill="#b4b4b4" stroke="#868686" stroke-width="1.25"/>
<circle cx="415.8" cy="379.6" r="4.60" fill="#b4b4b4" stroke="#868686" stroke-width="1.25"/>
<circle cx="429.4" cy="375.8" r="4.60" fill="#b4b4b4" stroke="#868686" stroke-width="1.25"/>
<circle cx="441.5" cy="380.0" r="4.60" fill="#b4b4b4" stroke="#868686" stroke-width="1.25"/>
<circle cx="454.6" cy="383.5" r="4.60" fill="#b4b4b4" stroke="#868686" stroke-width="1.25"/>
<circle cx="467.5" cy="380.7" r="4.60" fill="#b4b4b4" stroke="#868686" stroke-width="1.25"/>
<circle cx="457.8" cy="370.7" r="4.60" fill="#b4b4b4" stroke="#868686" stroke-width="1.25"/>
<circle cx="410.0" cy="392.0" r="4.60" fill="#b4b4b4" stroke="#868686" stroke-width="1.25"/>
<circle cx="441.5" cy="392.4" r="4.60" fill="#b4b4b4" stroke="#868686" stroke-width="1.25"/>
<circle cx="455.0" cy="396.5" r="4.60" fill="#b4b4b4" stroke="#868686" stroke-width="1.25"/>
<circle cx="472.0" cy="392.8" r="4.60" fill="#b4b4b4" stroke="#868686" stroke-width="1.25"/>
<circle cx="463.4" cy="403.4" r="4.60" fill="#b4b4b4" stroke="#868686" stroke-width="1.25"/>
<circle cx="478.4" cy="404.9" r="4.60" fill="#b4b4b4" stroke="#868686" stroke-width="1.25"/>
<circle cx="427.7" cy="397.7" r="4.60" fill="#b4b4b4" stroke="#868686" stroke-width="1.25"/>
<circle cx="402.8" cy="402.0" r="4.60" fill="#b4b4b4" stroke="#868686" stroke-width="1.25"/>
<circle cx="415.6" cy="403.4" r="4.60" fill="#e02024" stroke="#8e1616" stroke-width="1.25"/>
<circle cx="386.0" cy="398.0" r="6.00" fill="#e02024" stroke="#8e1616" stroke-width="1.25"/>
<circle cx="398.2" cy="416.2" r="4.60" fill="#b4b4b4" stroke="#868686" stroke-width="1.25"/>
<circle cx="410.8" cy="415.5" r="4.60" fill="#b4b4b4" stroke="#868686" stroke-width="1.25"/>
<circle cx="422.7" cy="418.4" r="4.60" fill="#ffffff" stroke="#959595" stroke-width="1.25"/>
<circle cx="455.0" cy="415.5" r="4.60" fill="#b4b4b4" stroke="#868686" stroke-width="1.25"/>
<circle cx="468.2" cy="415.5" r="4.60" fill="#b4b4b4" stroke="#868686" stroke-width="1.25"/>
<circle cx="481.0" cy="420.2" r="4.60" fill="#b4b4b4" stroke="#868686" stroke-width="1.25"/>
<circle cx="406.0" cy="428.3" r="4.60" fill="#b4b4b4" stroke="#868686" stroke-width="1.25"/>
<circle cx="417.5" cy="433.3" r="4.60" fill="#e02024" stroke="#8e1616" stroke-width="1.25"/>
<circle cx="429.7" cy="428.3" r="4.60" fill="#b4b4b4" stroke="#868686" stroke-width="1.25"/>
<circle cx="443.5" cy="428.6" r="4.60" fill="#b4b4b4" stroke="#868686" stroke-width="1.25"/>
<circle cx="456.0" cy="429.4" r="4.60" fill="#b4b4b4" stroke="#868686" stroke-width="1.25"/>
<circle cx="470.2" cy="426.9" r="4.60" fill="#b4b4b4" stroke="#868686" stroke-width="1.25"/>
<circle cx="434.7" cy="439.0" r="4.60" fill="#b4b4b4" stroke="#868686" stroke-width="1.25"/>
<circle cx="447.4" cy="441.2" r="4.60" fill="#b4b4b4" stroke="#868686" stroke-width="1.25"/>
<circle cx="465.3" cy="438.1" r="4.60" fill="#b4b4b4" stroke="#868686" stroke-width="1.25"/>
<circle cx="480.0" cy="436.4" r="4.60" fill="#b4b4b4" stroke="#868686" stroke-width="1.25"/>
<circle cx="423.0" cy="445.9" r="4.60" fill="#b4b4b4" stroke="#868686" stroke-width="1.25"/>
<circle cx="457.1" cy="447.0" r="4.60" fill="#b4b4b4" stroke="#868686" stroke-width="1.25"/>
<circle cx="472.0" cy="449.2" r="4.60" fill="#b4b4b4" stroke="#868686" stroke-width="1.25"/>
<circle cx="439.0" cy="452.0" r="4.60" fill="#b4b4b4" stroke="#868686" stroke-width="1.25"/>
<circle cx="457.1" cy="459.0" r="4.60" fill="#b4b4b4" stroke="#868686" stroke-width="1.25"/>
<circle cx="342.0" cy="457.8" r="4.60" fill="#b4b4b4" stroke="#868686" stroke-width="1.25"/>
<circle cx="354.8" cy="455.6" r="4.60" fill="#b4b4b4" stroke="#868686" stroke-width="1.25"/>
<circle cx="366.6" cy="454.2" r="4.60" fill="#e02024" stroke="#8e1616" stroke-width="1.25"/>
<circle cx="330.5" cy="465.6" r="4.60" fill="#b4b4b4" stroke="#868686" stroke-width="1.25"/>
<circle cx="343.0" cy="469.3" r="4.60" fill="#b4b4b4" stroke="#868686" stroke-width="1.25"/>
<circle cx="354.8" cy="467.4" r="4.60" fill="#b4b4b4" stroke="#868686" stroke-width="1.25"/>
<circle cx="366.7" cy="465.6" r="4.60" fill="#b4b4b4" stroke="#868686" stroke-width="1.25"/>
<circle cx="320.0" cy="475.0" r="4.60" fill="#b4b4b4" stroke="#868686" stroke-width="1.25"/>
<circle cx="333.6" cy="479.3" r="4.60" fill="#b4b4b4" stroke="#868686" stroke-width="1.25"/>
<circle cx="350.4" cy="480.0" r="4.60" fill="#b4b4b4" stroke="#868686" stroke-width="1.25"/>
<circle cx="362.4" cy="478.0" r="4.60" fill="#b4b4b4" stroke="#868686" stroke-width="1.25"/>
<circle cx="311.8" cy="486.0" r="4.60" fill="#b4b4b4" stroke="#868686" stroke-width="1.25"/>
<circle cx="326.0" cy="488.6" r="4.60" fill="#e02024" stroke="#8e1616" stroke-width="1.25"/>
<circle cx="341.7" cy="488.0" r="4.60" fill="#b4b4b4" stroke="#868686" stroke-width="1.25"/>
<circle cx="354.2" cy="490.5" r="4.60" fill="#b4b4b4" stroke="#868686" stroke-width="1.25"/>
<circle cx="308.7" cy="496.7" r="4.60" fill="#b4b4b4" stroke="#868686" stroke-width="1.25"/>
<circle cx="321.2" cy="499.8" r="4.60" fill="#b4b4b4" stroke="#868686" stroke-width="1.25"/>
<circle cx="333.0" cy="496.0" r="4.60" fill="#b4b4b4" stroke="#868686" stroke-width="1.25"/>
<circle cx="343.0" cy="503.0" r="4.60" fill="#e02024" stroke="#8e1616" stroke-width="1.25"/>
<circle cx="308.5" cy="509.1" r="4.60" fill="#e02024" stroke="#8e1616" stroke-width="1.25"/>
<circle cx="320.5" cy="512.2" r="4.60" fill="#b4b4b4" stroke="#868686" stroke-width="1.25"/>
<circle cx="331.3" cy="507.5" r="4.60" fill="#b4b4b4" stroke="#868686" stroke-width="1.25"/>
<circle cx="340.0" cy="513.2" r="4.60" fill="#e02024" stroke="#8e1616" stroke-width="1.25"/>
<circle cx="352.4" cy="509.2" r="4.60" fill="#b4b4b4" stroke="#868686" stroke-width="1.25"/>
<circle cx="361.1" cy="518.7" r="4.60" fill="#e02024" stroke="#8e1616" stroke-width="1.25"/>
<circle cx="378.7" cy="460.0" r="4.60" fill="#b4b4b4" stroke="#868686" stroke-width="1.25"/>
<circle cx="389.9" cy="465.0" r="4.60" fill="#b4b4b4" stroke="#868686" stroke-width="1.25"/>
<circle cx="375.6" cy="473.7" r="4.60" fill="#b4b4b4" stroke="#868686" stroke-width="1.25"/>
<circle cx="386.8" cy="476.8" r="4.60" fill="#e02024" stroke="#8e1616" stroke-width="1.25"/>
<circle cx="400.5" cy="473.7" r="4.60" fill="#b4b4b4" stroke="#868686" stroke-width="1.25"/>
<circle cx="372.5" cy="486.0" r="4.60" fill="#e02024" stroke="#8e1616" stroke-width="1.25"/>
<circle cx="385.0" cy="488.6" r="4.60" fill="#b4b4b4" stroke="#868686" stroke-width="1.25"/>
<circle cx="396.0" cy="486.0" r="4.60" fill="#b4b4b4" stroke="#868686" stroke-width="1.25"/>
<circle cx="409.2" cy="483.6" r="4.60" fill="#e02024" stroke="#8e1616" stroke-width="1.25"/>
<circle cx="403.6" cy="494.8" r="4.60" fill="#b4b4b4" stroke="#868686" stroke-width="1.25"/>
<circle cx="416.0" cy="496.7" r="4.60" fill="#b4b4b4" stroke="#868686" stroke-width="1.25"/>
<circle cx="379.3" cy="498.0" r="4.60" fill="#b4b4b4" stroke="#868686" stroke-width="1.25"/>
<circle cx="370.7" cy="511.5" r="4.60" fill="#b4b4b4" stroke="#868686" stroke-width="1.25"/>
<circle cx="383.2" cy="509.9" r="4.60" fill="#b4b4b4" stroke="#868686" stroke-width="1.25"/>
<circle cx="394.7" cy="511.8" r="4.60" fill="#b4b4b4" stroke="#868686" stroke-width="1.25"/>
<circle cx="405.8" cy="506.2" r="4.60" fill="#b4b4b4" stroke="#868686" stroke-width="1.25"/>
<circle cx="418.1" cy="508.8" r="4.60" fill="#b4b4b4" stroke="#868686" stroke-width="1.25"/>
<circle cx="405.2" cy="517.1" r="4.60" fill="#e02024" stroke="#8e1616" stroke-width="1.25"/>
<circle cx="371.8" cy="520.5" r="4.60" fill="#e02024" stroke="#8e1616" stroke-width="1.25"/>
<circle cx="311.9" cy="521.8" r="4.60" fill="#b4b4b4" stroke="#868686" stroke-width="1.25"/>
<circle cx="329.4" cy="520.4" r="4.60" fill="#b4b4b4" stroke="#868686" stroke-width="1.25"/>
<circle cx="349.0" cy="520.4" r="4.60" fill="#b4b4b4" stroke="#868686" stroke-width="1.25"/>
<circle cx="384.0" cy="520.4" r="4.60" fill="#b4b4b4" stroke="#868686" stroke-width="1.25"/>
<circle cx="396.6" cy="523.2" r="4.60" fill="#b4b4b4" stroke="#868686" stroke-width="1.25"/>
<circle cx="416.2" cy="521.0" r="4.60" fill="#b4b4b4" stroke="#868686" stroke-width="1.25"/>
<circle cx="320.3" cy="529.5" r="4.60" fill="#e02024" stroke="#8e1616" stroke-width="1.25"/>
<circle cx="337.8" cy="527.4" r="4.60" fill="#b4b4b4" stroke="#868686" stroke-width="1.25"/>
<circle cx="350.4" cy="530.9" r="4.60" fill="#b4b4b4" stroke="#868686" stroke-width="1.25"/>
<circle cx="361.6" cy="530.9" r="4.60" fill="#b4b4b4" stroke="#868686" stroke-width="1.25"/>
<circle cx="373.5" cy="530.9" r="4.60" fill="#e02024" stroke="#8e1616" stroke-width="1.25"/>
<circle cx="386.1" cy="531.6" r="4.60" fill="#b4b4b4" stroke="#868686" stroke-width="1.25"/>
<circle cx="407.1" cy="530.2" r="4.60" fill="#b4b4b4" stroke="#868686" stroke-width="1.25"/>
<circle cx="330.8" cy="535.1" r="4.60" fill="#b4b4b4" stroke="#868686" stroke-width="1.25"/>
<circle cx="343.4" cy="539.3" r="4.60" fill="#b4b4b4" stroke="#868686" stroke-width="1.25"/>
<circle cx="356.0" cy="541.4" r="4.60" fill="#b4b4b4" stroke="#868686" stroke-width="1.25"/>
<circle cx="367.2" cy="540.7" r="4.60" fill="#b4b4b4" stroke="#868686" stroke-width="1.25"/>
<circle cx="380.5" cy="540.7" r="4.60" fill="#b4b4b4" stroke="#868686" stroke-width="1.25"/>
<circle cx="396.0" cy="536.5" r="4.60" fill="#b4b4b4" stroke="#868686" stroke-width="1.25"/>
<circle cx="564.8" cy="326.4" r="4.80" fill="#b4b4b4" stroke="#868686" stroke-width="1.25"/>
<circle cx="585.6" cy="324.0" r="4.80" fill="#e02024" stroke="#8e1616" stroke-width="1.25"/>
<circle cx="576.2" cy="330.0" r="4.80" fill="#e02024" stroke="#8e1616" stroke-width="1.25"/>
<circle cx="552.7" cy="332.8" r="4.80" fill="#e02024" stroke="#8e1616" stroke-width="1.25"/>
<circle cx="521.4" cy="340.6" r="4.80" fill="#b4b4b4" stroke="#868686" stroke-width="1.25"/>
<circle cx="543.5" cy="341.3" r="4.80" fill="#b4b4b4" stroke="#868686" stroke-width="1.25"/>
<circle cx="565.5" cy="337.8" r="4.80" fill="#b4b4b4" stroke="#868686" stroke-width="1.25"/>
<circle cx="576.2" cy="342.0" r="4.80" fill="#e02024" stroke="#8e1616" stroke-width="1.25"/>
<circle cx="586.2" cy="335.0" r="4.80" fill="#e02024" stroke="#8e1616" stroke-width="1.25"/>
<circle cx="557.0" cy="344.0" r="4.80" fill="#e02024" stroke="#8e1616" stroke-width="1.25"/>
<circle cx="586.0" cy="346.6" r="4.80" fill="#e02024" stroke="#8e1616" stroke-width="1.25"/>
<circle cx="567.7" cy="349.0" r="4.80" fill="#b4b4b4" stroke="#868686" stroke-width="1.25"/>
<circle cx="548.4" cy="352.0" r="4.80" fill="#e02024" stroke="#8e1616" stroke-width="1.25"/>
<circle cx="577.0" cy="352.7" r="4.80" fill="#e02024" stroke="#8e1616" stroke-width="1.25"/>
<circle cx="538.5" cy="355.0" r="4.80" fill="#b4b4b4" stroke="#868686" stroke-width="1.25"/>
<circle cx="513.0" cy="356.0" r="4.80" fill="#b4b4b4" stroke="#868686" stroke-width="1.25"/>
<circle cx="559.0" cy="356.0" r="4.80" fill="#e02024" stroke="#8e1616" stroke-width="1.25"/>
<circle cx="568.4" cy="360.6" r="4.80" fill="#e02024" stroke="#8e1616" stroke-width="1.25"/>
<circle cx="535.0" cy="364.0" r="4.80" fill="#e02024" stroke="#8e1616" stroke-width="1.25"/>
<circle cx="548.4" cy="363.4" r="4.80" fill="#e02024" stroke="#8e1616" stroke-width="1.25"/>
<circle cx="559.0" cy="367.0" r="4.80" fill="#b4b4b4" stroke="#868686" stroke-width="1.25"/>
<circle cx="570.0" cy="370.0" r="4.80" fill="#b4b4b4" stroke="#868686" stroke-width="1.25"/>
<circle cx="579.5" cy="365.3" r="4.80" fill="#e02024" stroke="#8e1616" stroke-width="1.25"/>
<circle cx="586.7" cy="356.2" r="4.80" fill="#b4b4b4" stroke="#868686" stroke-width="1.25"/>
<circle cx="587.7" cy="368.0" r="4.80" fill="#b4b4b4" stroke="#868686" stroke-width="1.25"/>
<circle cx="523.5" cy="371.0" r="4.80" fill="#b4b4b4" stroke="#868686" stroke-width="1.25"/>
<circle cx="542.7" cy="372.0" r="4.80" fill="#b4b4b4" stroke="#868686" stroke-width="1.25"/>
<circle cx="552.7" cy="374.0" r="4.80" fill="#e02024" stroke="#8e1616" stroke-width="1.25"/>
<circle cx="562.7" cy="380.0" r="4.80" fill="#e02024" stroke="#8e1616" stroke-width="1.25"/>
<circle cx="532.8" cy="378.0" r="4.80" fill="#e02024" stroke="#8e1616" stroke-width="1.25"/>
<circle cx="579.7" cy="377.3" r="4.80" fill="#e02024" stroke="#8e1616" stroke-width="1.25"/>
<circle cx="542.7" cy="383.0" r="4.80" fill="#e02024" stroke="#8e1616" stroke-width="1.25"/>
<circle cx="554.0" cy="385.0" r="4.80" fill="#e02024" stroke="#8e1616" stroke-width="1.25"/>
<circle cx="568.0" cy="385.0" r="4.80" fill="#e02024" stroke="#8e1616" stroke-width="1.25"/>
<circle cx="597.8" cy="326.4" r="4.80" fill="#e02024" stroke="#8e1616" stroke-width="1.25"/>
<circle cx="609.2" cy="330.0" r="4.80" fill="#e02024" stroke="#8e1616" stroke-width="1.25"/>
<circle cx="621.3" cy="334.2" r="4.80" fill="#e02024" stroke="#8e1616" stroke-width="1.25"/>
<circle cx="597.8" cy="337.0" r="4.80" fill="#e02024" stroke="#8e1616" stroke-width="1.25"/>
<circle cx="608.5" cy="341.3" r="4.80" fill="#e02024" stroke="#8e1616" stroke-width="1.25"/>
<circle cx="618.4" cy="345.0" r="4.80" fill="#b4b4b4" stroke="#868686" stroke-width="1.25"/>
<circle cx="632.0" cy="343.5" r="4.80" fill="#e02024" stroke="#8e1616" stroke-width="1.25"/>
<circle cx="596.4" cy="347.0" r="4.80" fill="#e02024" stroke="#8e1616" stroke-width="1.25"/>
<circle cx="605.6" cy="352.0" r="4.80" fill="#e02024" stroke="#8e1616" stroke-width="1.25"/>
<circle cx="615.6" cy="355.0" r="4.80" fill="#e02024" stroke="#8e1616" stroke-width="1.25"/>
<circle cx="627.0" cy="353.4" r="4.80" fill="#e02024" stroke="#8e1616" stroke-width="1.25"/>
<circle cx="639.0" cy="354.0" r="4.80" fill="#e02024" stroke="#8e1616" stroke-width="1.25"/>
<circle cx="597.8" cy="358.4" r="4.80" fill="#e02024" stroke="#8e1616" stroke-width="1.25"/>
<circle cx="607.8" cy="363.4" r="4.80" fill="#e02024" stroke="#8e1616" stroke-width="1.25"/>
<circle cx="618.4" cy="363.4" r="4.80" fill="#b4b4b4" stroke="#868686" stroke-width="1.25"/>
<circle cx="632.0" cy="363.4" r="4.80" fill="#b4b4b4" stroke="#868686" stroke-width="1.25"/>
<circle cx="644.0" cy="365.5" r="4.80" fill="#e02024" stroke="#8e1616" stroke-width="1.25"/>
<circle cx="597.8" cy="368.4" r="4.80" fill="#e02024" stroke="#8e1616" stroke-width="1.25"/>
<circle cx="605.0" cy="374.8" r="4.80" fill="#e02024" stroke="#8e1616" stroke-width="1.25"/>
<circle cx="614.0" cy="371.2" r="4.80" fill="#e02024" stroke="#8e1616" stroke-width="1.25"/>
<circle cx="624.0" cy="372.0" r="4.80" fill="#e02024" stroke="#8e1616" stroke-width="1.25"/>
<circle cx="635.5" cy="374.0" r="4.80" fill="#e02024" stroke="#8e1616" stroke-width="1.25"/>
<circle cx="647.0" cy="377.6" r="4.80" fill="#b4b4b4" stroke="#868686" stroke-width="1.25"/>
<circle cx="593.5" cy="379.0" r="4.80" fill="#b4b4b4" stroke="#868686" stroke-width="1.25"/>
<circle cx="615.0" cy="382.0" r="4.80" fill="#b4b4b4" stroke="#868686" stroke-width="1.25"/>
<circle cx="625.5" cy="382.0" r="4.80" fill="#e02024" stroke="#8e1616" stroke-width="1.25"/>
<circle cx="638.4" cy="384.0" r="4.80" fill="#ffffff" stroke="#959595" stroke-width="1.25"/>
<circle cx="602.8" cy="384.8" r="4.80" fill="#e02024" stroke="#8e1616" stroke-width="1.25"/>
<circle cx="584.0" cy="389.0" r="4.80" fill="#b4b4b4" stroke="#868686" stroke-width="1.25"/>
<circle cx="609.5" cy="393.6" r="4.80" fill="#f59d0e" stroke="#b5720a" stroke-width="1.25"/>
<circle cx="533.5" cy="388.5" r="4.80" fill="#e02024" stroke="#8e1616" stroke-width="1.25"/>
<circle cx="547.0" cy="394.2" r="4.80" fill="#e02024" stroke="#8e1616" stroke-width="1.25"/>
<circle cx="558.4" cy="392.8" r="4.80" fill="#e02024" stroke="#8e1616" stroke-width="1.25"/>
<circle cx="569.8" cy="395.0" r="4.80" fill="#e02024" stroke="#8e1616" stroke-width="1.25"/>
<circle cx="524.0" cy="400.0" r="4.80" fill="#b4b4b4" stroke="#868686" stroke-width="1.25"/>
<circle cx="536.3" cy="402.0" r="4.80" fill="#b4b4b4" stroke="#868686" stroke-width="1.25"/>
<circle cx="549.0" cy="402.8" r="4.80" fill="#b4b4b4" stroke="#868686" stroke-width="1.25"/>
<circle cx="563.4" cy="402.8" r="4.80" fill="#b4b4b4" stroke="#868686" stroke-width="1.25"/>
<circle cx="576.2" cy="402.0" r="4.80" fill="#e02024" stroke="#8e1616" stroke-width="1.25"/>
<circle cx="587.7" cy="403.8" r="4.80" fill="#e02024" stroke="#8e1616" stroke-width="1.25"/>
<circle cx="528.5" cy="411.3" r="4.80" fill="#b4b4b4" stroke="#868686" stroke-width="1.25"/>
<circle cx="543.5" cy="412.0" r="4.80" fill="#e02024" stroke="#8e1616" stroke-width="1.25"/>
<circle cx="555.5" cy="412.0" r="4.80" fill="#e02024" stroke="#8e1616" stroke-width="1.25"/>
<circle cx="567.7" cy="412.0" r="4.80" fill="#b4b4b4" stroke="#868686" stroke-width="1.25"/>
<circle cx="578.3" cy="412.0" r="4.80" fill="#ffffff" stroke="#959595" stroke-width="1.25"/>
<circle cx="588.8" cy="416.0" r="4.80" fill="#e02024" stroke="#8e1616" stroke-width="1.25"/>
<circle cx="533.5" cy="420.6" r="4.80" fill="#b4b4b4" stroke="#868686" stroke-width="1.25"/>
<circle cx="546.3" cy="421.3" r="4.80" fill="#b4b4b4" stroke="#868686" stroke-width="1.25"/>
<circle cx="559.8" cy="421.3" r="4.80" fill="#e02024" stroke="#8e1616" stroke-width="1.25"/>
<circle cx="572.6" cy="420.6" r="4.80" fill="#e02024" stroke="#8e1616" stroke-width="1.25"/>
<circle cx="583.4" cy="423.4" r="4.80" fill="#e02024" stroke="#8e1616" stroke-width="1.25"/>
<circle cx="537.8" cy="430.5" r="4.80" fill="#e02024" stroke="#8e1616" stroke-width="1.25"/>
<circle cx="552.7" cy="429.8" r="4.80" fill="#e02024" stroke="#8e1616" stroke-width="1.25"/>
<circle cx="567.0" cy="429.8" r="4.80" fill="#e02024" stroke="#8e1616" stroke-width="1.25"/>
<circle cx="578.3" cy="432.5" r="4.80" fill="#b4b4b4" stroke="#868686" stroke-width="1.25"/>
<circle cx="587.3" cy="433.8" r="4.80" fill="#b4b4b4" stroke="#868686" stroke-width="1.25"/>
<circle cx="546.5" cy="440.0" r="4.80" fill="#e02024" stroke="#8e1616" stroke-width="1.25"/>
<circle cx="560.8" cy="438.7" r="4.80" fill="#b4b4b4" stroke="#868686" stroke-width="1.25"/>
<circle cx="572.0" cy="441.0" r="4.80" fill="#e02024" stroke="#8e1616" stroke-width="1.25"/>
<circle cx="583.7" cy="443.5" r="4.80" fill="#e02024" stroke="#8e1616" stroke-width="1.25"/>
<circle cx="556.4" cy="448.5" r="4.80" fill="#f59d0e" stroke="#b5720a" stroke-width="1.25"/>
<circle cx="568.0" cy="452.0" r="4.80" fill="#b4b4b4" stroke="#868686" stroke-width="1.25"/>
<circle cx="579.8" cy="454.3" r="4.80" fill="#e02024" stroke="#8e1616" stroke-width="1.25"/>
<circle cx="595.7" cy="395.7" r="4.80" fill="#e02024" stroke="#8e1616" stroke-width="1.25"/>
<circle cx="619.0" cy="393.5" r="4.80" fill="#e02024" stroke="#8e1616" stroke-width="1.25"/>
<circle cx="637.0" cy="397.8" r="4.80" fill="#b4b4b4" stroke="#868686" stroke-width="1.25"/>
<circle cx="645.5" cy="390.7" r="4.80" fill="#b4b4b4" stroke="#868686" stroke-width="1.25"/>
<circle cx="604.2" cy="402.0" r="4.80" fill="#e02024" stroke="#8e1616" stroke-width="1.25"/>
<circle cx="615.0" cy="402.8" r="4.80" fill="#e02024" stroke="#8e1616" stroke-width="1.25"/>
<circle cx="625.5" cy="402.0" r="4.80" fill="#e02024" stroke="#8e1616" stroke-width="1.25"/>
<circle cx="646.2" cy="406.3" r="4.80" fill="#b4b4b4" stroke="#868686" stroke-width="1.25"/>
<circle cx="634.0" cy="410.0" r="4.80" fill="#e02024" stroke="#8e1616" stroke-width="1.25"/>
<circle cx="597.8" cy="410.0" r="4.80" fill="#e02024" stroke="#8e1616" stroke-width="1.25"/>
<circle cx="609.2" cy="411.3" r="4.80" fill="#e02024" stroke="#8e1616" stroke-width="1.25"/>
<circle cx="621.3" cy="412.0" r="4.80" fill="#b4b4b4" stroke="#868686" stroke-width="1.25"/>
<circle cx="602.8" cy="419.0" r="4.80" fill="#e02024" stroke="#8e1616" stroke-width="1.25"/>
<circle cx="615.0" cy="420.6" r="4.80" fill="#b4b4b4" stroke="#868686" stroke-width="1.25"/>
<circle cx="627.7" cy="419.9" r="4.80" fill="#e02024" stroke="#8e1616" stroke-width="1.25"/>
<circle cx="642.0" cy="418.4" r="4.80" fill="#e02024" stroke="#8e1616" stroke-width="1.25"/>
<circle cx="594.2" cy="424.8" r="4.80" fill="#e02024" stroke="#8e1616" stroke-width="1.25"/>
<circle cx="607.0" cy="426.3" r="4.80" fill="#b4b4b4" stroke="#868686" stroke-width="1.25"/>
<circle cx="622.0" cy="428.4" r="4.80" fill="#b4b4b4" stroke="#868686" stroke-width="1.25"/>
<circle cx="636.2" cy="429.6" r="4.80" fill="#b4b4b4" stroke="#868686" stroke-width="1.25"/>
<circle cx="600.0" cy="434.5" r="4.80" fill="#e02024" stroke="#8e1616" stroke-width="1.25"/>
<circle cx="615.7" cy="436.7" r="4.80" fill="#b4b4b4" stroke="#868686" stroke-width="1.25"/>
<circle cx="628.4" cy="439.3" r="4.80" fill="#e02024" stroke="#8e1616" stroke-width="1.25"/>
<circle cx="594.5" cy="445.0" r="4.80" fill="#e02024" stroke="#8e1616" stroke-width="1.25"/>
<circle cx="606.2" cy="443.0" r="4.80" fill="#b4b4b4" stroke="#868686" stroke-width="1.25"/>
<circle cx="618.6" cy="448.5" r="4.80" fill="#e02024" stroke="#8e1616" stroke-width="1.25"/>
<circle cx="592.3" cy="455.0" r="4.80" fill="#b4b4b4" stroke="#868686" stroke-width="1.25"/>
<circle cx="606.0" cy="454.6" r="4.80" fill="#f59d0e" stroke="#b5720a" stroke-width="1.25"/>
<circle cx="456.8" cy="313.1" r="4.80" fill="#ffffff" stroke="#959595" stroke-width="1.25"/>
<circle cx="472.1" cy="311.0" r="4.80" fill="#b4b4b4" stroke="#868686" stroke-width="1.25"/>
<circle cx="488.3" cy="311.8" r="4.80" fill="#b4b4b4" stroke="#868686" stroke-width="1.25"/>
<circle cx="457.7" cy="327.4" r="4.80" fill="#b4b4b4" stroke="#868686" stroke-width="1.25"/>
<circle cx="422" cy="352" r="8.6" fill="#aaaaaa" stroke="#7a7a7a" stroke-width="2"/>
<text x="276.4" y="340.8" font-size="7.4" fill="#555" textLength="58.6" lengthAdjust="spacing">Youssef al-Assad</text>
<text x="215.6" y="353.2" font-size="7.4" fill="#555">Hasan Salloum</text>
<text x="212.4" y="365.2" font-size="7.4" fill="#555">Bashar Juneid</text>
<text x="177.7" y="374.8" font-size="7.4" fill="#555" textLength="135.5" lengthAdjust="spacing">Sahar Hassoun Elhan Bab Mohana Fead</text>
<text x="216.4" y="402.0" font-size="7.4" fill="#555" textLength="84.6" lengthAdjust="spacing">Fouad al-Shair  Fa halissa</text>
<text x="178.8" y="412.1" font-size="7.4" fill="#555">Taha sbaiash</text>
<text x="176.4" y="418.0" font-size="7.4" fill="#555">Hind Tareef</text>
<text x="247.6" y="415.3" font-size="7.4" fill="#555" textLength="52.0" lengthAdjust="spacing">Bassam Dakrouj</text>
<text x="259.6" y="424.4" font-size="7.4" fill="#555" textLength="52.4" lengthAdjust="spacing">Fares Abd el-Din</text>
<text x="193.2" y="427.3" font-size="7.4" fill="#555">Mohammad Zoubi</text>
<text x="182.8" y="443.6" font-size="7.4" fill="#555">Imad Ghalioun</text>
<text x="244.0" y="439.3" font-size="7.4" fill="#555">Huda Mleh</text>
<text x="212.0" y="457.2" font-size="7.4" fill="#555" textLength="52.4" lengthAdjust="spacing">Nawaf al-Bashir</text>
<text x="447.5" y="323.2" font-size="7.4" fill="#555" textLength="49.2" lengthAdjust="spacing">Rami Makhlouf</text>
<text x="494.8" y="353.1" font-size="7.4" fill="#555">Hafez Makhlouf</text>
<text x="506.0" y="364.1" font-size="7.4" fill="#555" textLength="85.0" lengthAdjust="spacing">Hassan Abdullah Ghazal</text>
<text x="525.6" y="375.8" font-size="7.4" fill="#555" textLength="106.9" lengthAdjust="spacing">Ibrahim al-Mohammad Hamdan</text>
<text x="568.4" y="341.8" font-size="7.4" fill="#555" textLength="83.6" lengthAdjust="spacing">Ahmad Abdel Aziz Kanaan</text>
<text x="572.6" y="354.8" font-size="7.4" fill="#555" textLength="116.4" lengthAdjust="spacing">Mohammad Fayez Ihsan al-Asmar</text>
<text x="604.0" y="365.8" font-size="7.4" fill="#555" textLength="70.0" lengthAdjust="spacing">Adnan Nawras Selou</text>
<text x="503.0" y="403.8" font-size="7.4" fill="#555">Muntaser Ja'wesh</text>
<text x="497.0" y="411.1" font-size="7.4" fill="#555">Jumah al-Ahmed</text>
<text x="512.8" y="422.5" font-size="7.4" fill="#555">Ziad Ismael Fahed</text>
<text x="530.8" y="432.8" font-size="7.4" fill="#555">Ala'a Saad</text>
<text x="591.0" y="404.8" font-size="7.4" fill="#555" textLength="58.6" lengthAdjust="spacing">Lu'ay al-Jabeen</text>
<text x="577.5" y="413.4" font-size="7.4" fill="#555" textLength="77.8" lengthAdjust="spacing">Mezna al-Bin Hamwouch</text>
<text x="604.0" y="422.5" font-size="7.4" fill="#555" textLength="35.6" lengthAdjust="spacing">Tarek Yaniz</text>
<text x="580.3" y="429.8" font-size="7.4" fill="#555" textLength="47.7" lengthAdjust="spacing">Fahed al-Basset</text>
<text x="577.0" y="445.3" font-size="7.4" fill="#555" textLength="53.0" lengthAdjust="spacing">Hussain al-Ahmad</text>
<text x="576.0" y="456.7" font-size="7.4" fill="#555" textLength="44.6" lengthAdjust="spacing">Ayoub Sharaa</text>
<text x="580.4" y="467.4" font-size="7.4" fill="#555" textLength="49.6" lengthAdjust="spacing">Waleed Ammar</text>
<text x="384.5" y="444.3" font-size="7.4" fill="#555" textLength="65.3" lengthAdjust="spacing">Abdo Hussameddin</text>
<text x="408.7" y="459.8" font-size="7.4" fill="#555" textLength="96.0" lengthAdjust="spacing">Mohammad Ibrahim al-Shaar</text>
<text x="418.0" y="471.4" font-size="7.4" fill="#555" textLength="76.7" lengthAdjust="spacing">Mahmoud Ibrahim Said</text>
<text x="440.5" y="431.8" font-size="7.4" fill="#555" textLength="83.5" lengthAdjust="spacing">Mohammad Yehya Moalla</text>
<text x="378.6" y="403.0" font-size="7.4" fill="#555" textLength="62.4" lengthAdjust="spacing">Lubanah Mshaweh</text>
<text x="350.6" y="471.4" font-size="7.4" fill="#555" textLength="57.4" lengthAdjust="spacing">Houda Al Houmsi</text>
<text x="311.7" y="478.0" font-size="7.4" fill="#555">Majid Abeel</text>
<text x="303.6" y="487.3" font-size="7.4" fill="#555">Jawdat Ali</text>
<text x="356.4" y="485.8" font-size="7.4" fill="#555" textLength="88.6" lengthAdjust="spacing">Nabil Wahbeh al-Ghanem</text>
<text x="305.4" y="519.5" font-size="7.4" fill="#555">Bahjat Suleiman</text>
<text x="396.7" y="520.4" font-size="7.4" fill="#555" textLength="42.8" lengthAdjust="spacing">Sami Salame</text>
<text x="321.8" y="531.8" font-size="7.4" fill="#555">Abdul Karim al</text>
<text x="382.3" y="531.8" font-size="7.4" fill="#555" textLength="46.1" lengthAdjust="spacing">Bony al-Baaj</text>
<text x="338.5" y="543.6" font-size="7.4" fill="#555" textLength="90.3" lengthAdjust="spacing">Mamoun Riad Haddad</text>
<text x="331.5" y="554.1" font-size="7.4" fill="#555" textLength="73.5" lengthAdjust="spacing">Nabeeh Bahgat Ismail</text>
<text x="494.3" y="501.2" font-size="8.3" fill="#555" textLength="41.0" lengthAdjust="spacing">Manaf Tlas</text>
<text x="414.0" y="495.7" font-size="7.9" fill="#5c5c5c" textLength="43.5" lengthAdjust="spacing">Farouk Taha</text>
<text x="351.2" y="391.5" font-size="9.7" fill="#555" textLength="86.5" lengthAdjust="spacing">Wael Nader al-Halki</text>
<text x="348.7" y="412.7" font-size="9.7" fill="#555" textLength="74.1" lengthAdjust="spacing">Riyad Farid Hijab</text>
<text x="370.0" y="372.8" font-size="13.8" fill="#333" textLength="102.2" lengthAdjust="spacing">Bashar al-Assad</text>
<text x="459.0" y="339.9" font-size="13.4" fill="#111" font-weight="bold" textLength="43.7" lengthAdjust="spacing">Family</text>
<text x="211.7" y="389.2" font-size="13.6" fill="#111" font-weight="bold" textLength="71.0" lengthAdjust="spacing">Parliament</text>
<text x="470.5" y="393.0" font-size="13.77" fill="#111" font-weight="bold" textLength="226.5" lengthAdjust="spacing">Senior Military &amp; Security Officials</text>
<text x="330.6" y="503.7" font-size="13.5" fill="#111" font-weight="bold" textLength="66.8" lengthAdjust="spacing">Diplomats</text>
<rect x="680.5" y="262" width="11.5" height="22.5" rx="2" fill="#e0e0e0" opacity="0.6"/>
<rect x="680.5" y="261.5" width="11.5" height="22" rx="2" fill="#ffffff" stroke="#9a9a9a" stroke-width="1"/>
<line x1="680.5" y1="272.5" x2="692" y2="272.5" stroke="#9a9a9a" stroke-width="1"/>
<path d="M683.3 266.8H688.9M686.1 264V269.6" stroke="#777" stroke-width="1.6"/>
<path d="M683.3 278.2H688.9" stroke="#777" stroke-width="1.6"/></svg>
</div>
</body></html>
